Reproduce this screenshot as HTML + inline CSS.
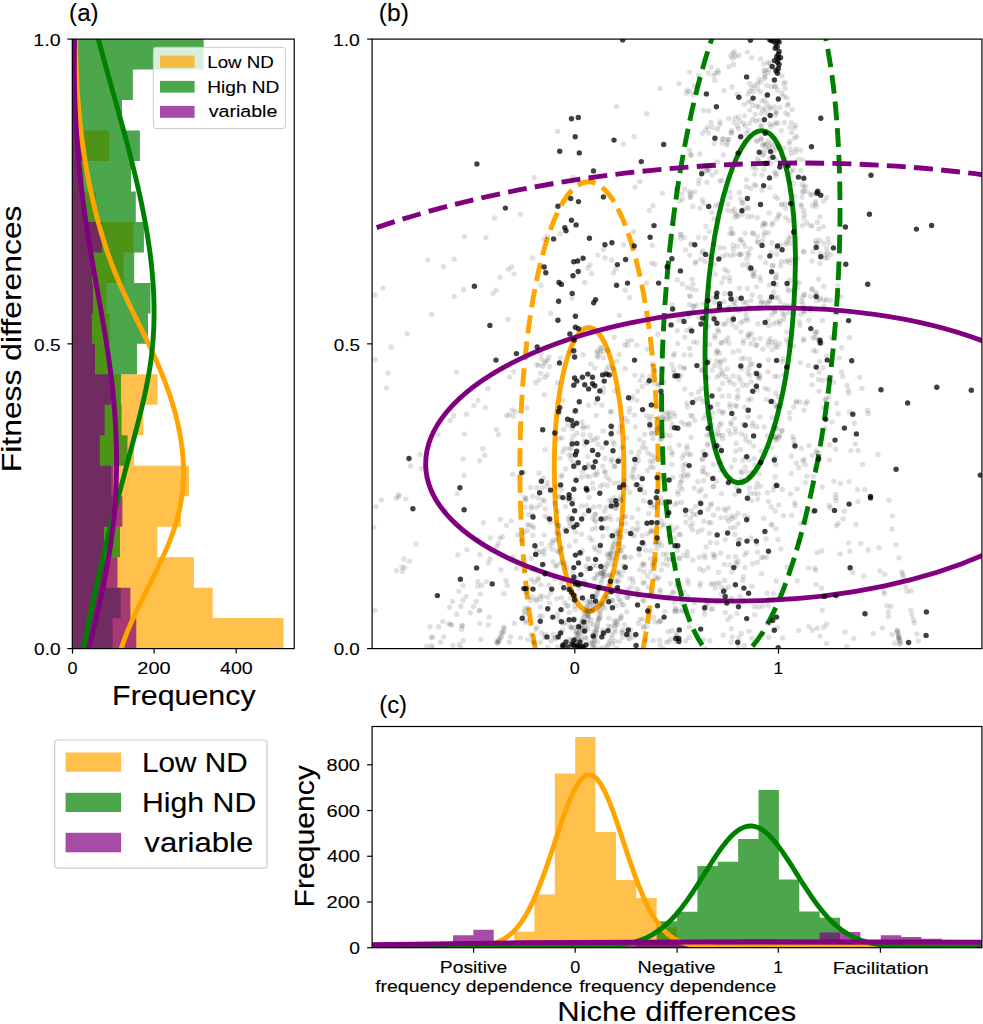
<!DOCTYPE html>
<html><head><meta charset="utf-8"><style>
html,body{margin:0;padding:0;background:#fff;width:983px;height:1024px;overflow:hidden}
svg{display:block}
text{font-family:"Liberation Sans",sans-serif;stroke:#000;stroke-width:0.12px}
</style></head><body>
<svg width="983" height="1024" viewBox="0 0 983 1024">
<rect width="983" height="1024" fill="#fff"/>
<clipPath id="clipA"><rect x="72.3" y="39.1" width="221.89999999999998" height="609.5"/></clipPath>
<g clip-path="url(#clipA)"><path d="M72.30,39.10H74.50V69.58H72.30ZM72.30,69.58H74.50V100.05H72.30ZM72.30,100.05H75.00V130.53H72.30ZM72.30,130.53H109.00V161.00H72.30ZM72.30,161.00H84.00V191.47H72.30ZM72.30,191.47H95.90V221.95H72.30ZM72.30,221.95H133.40V252.43H72.30ZM72.30,252.43H123.60V282.90H72.30ZM72.30,282.90H106.60V313.38H72.30ZM72.30,313.38H109.80V343.85H72.30ZM72.30,343.85H109.00V374.33H72.30ZM72.30,374.33H157.60V404.80H72.30ZM72.30,404.80H143.40V435.28H72.30ZM72.30,435.28H134.00V465.75H72.30ZM72.30,465.75H189.00V496.23H72.30ZM72.30,496.23H181.00V526.70H72.30ZM72.30,526.70H157.30V557.18H72.30ZM72.30,557.18H193.90V587.65H72.30ZM72.30,587.65H212.70V618.13H72.30ZM72.30,618.12H283.50V648.60H72.30Z" fill="#FFA500" fill-opacity="0.7"/><path d="M72.30,39.10H203.70V69.58H72.30ZM72.30,69.58H132.90V100.05H72.30ZM72.30,100.05H122.00V130.53H72.30ZM72.30,130.53H139.90V161.00H72.30ZM72.30,161.00H131.00V191.47H72.30ZM72.30,191.47H135.80V221.95H72.30ZM72.30,221.95H143.90V252.43H72.30ZM72.30,252.43H134.20V282.90H72.30ZM72.30,282.90H150.50V313.38H72.30ZM72.30,313.38H148.00V343.85H72.30ZM72.30,343.85H137.00V374.33H72.30ZM72.30,374.33H121.00V404.80H72.30ZM72.30,404.80H121.60V435.28H72.30ZM72.30,435.28H127.50V465.75H72.30ZM72.30,465.75H111.30V496.23H72.30ZM72.30,496.23H112.60V526.70H72.30ZM72.30,526.70H120.00V557.18H72.30ZM72.30,557.18H105.30V587.65H72.30ZM72.30,587.65H120.70V618.13H72.30ZM72.30,618.12H112.60V648.60H72.30Z" fill="#008000" fill-opacity="0.7"/><path d="M72.30,39.10H74.00V69.58H72.30ZM72.30,69.58H74.00V100.05H72.30ZM72.30,100.05H74.00V130.53H72.30ZM72.30,130.53H83.00V161.00H72.30ZM72.30,161.00H80.00V191.47H72.30ZM72.30,191.47H84.50V221.95H72.30ZM72.30,221.95H102.10V252.43H72.30ZM72.30,252.43H92.00V282.90H72.30ZM72.30,282.90H93.00V313.38H72.30ZM72.30,313.38H91.90V343.85H72.30ZM72.30,343.85H95.00V374.33H72.30ZM72.30,374.33H111.00V404.80H72.30ZM72.30,404.80H104.60V435.28H72.30ZM72.30,435.28H99.80V465.75H72.30ZM72.30,465.75H113.60V496.23H72.30ZM72.30,496.23H122.40V526.70H72.30ZM72.30,526.70H104.00V557.18H72.30ZM72.30,557.18H117.50V587.65H72.30ZM72.30,587.65H130.40V618.13H72.30ZM72.30,618.12H136.30V648.60H72.30Z" fill="#800080" fill-opacity="0.7"/><path d="M75.78,36.10 L75.78,39.97 L75.80,43.84 L75.83,47.71 L75.87,51.58 L75.94,55.46 L76.02,59.33 L76.12,63.20 L76.23,67.07 L76.37,70.94 L76.52,74.81 L76.69,78.68 L76.88,82.55 L77.09,86.42 L77.32,90.29 L77.57,94.17 L77.84,98.04 L78.13,101.91 L78.43,105.78 L78.76,109.65 L79.11,113.52 L79.48,117.39 L79.87,121.26 L80.28,125.13 L80.71,129.01 L81.17,132.88 L81.65,136.75 L82.15,140.62 L82.67,144.49 L83.21,148.36 L83.78,152.23 L84.37,156.10 L84.99,159.97 L85.63,163.85 L86.29,167.72 L86.97,171.59 L87.68,175.46 L88.42,179.33 L89.18,183.20 L89.97,187.07 L90.78,190.94 L91.61,194.81 L92.47,198.68 L93.36,202.56 L94.28,206.43 L95.23,210.30 L96.20,214.17 L97.20,218.04 L98.24,221.91 L99.30,225.78 L100.40,229.65 L101.53,233.52 L102.69,237.40 L103.89,241.27 L105.12,245.14 L106.39,249.01 L107.70,252.88 L109.05,256.75 L110.45,260.62 L111.89,264.49 L113.37,268.36 L114.90,272.24 L116.48,276.11 L118.11,279.98 L119.78,283.85 L121.50,287.72 L123.26,291.59 L125.05,295.46 L126.87,299.33 L128.71,303.20 L130.58,307.07 L132.46,310.95 L134.36,314.82 L136.27,318.69 L138.18,322.56 L140.09,326.43 L141.99,330.30 L143.89,334.17 L145.77,338.04 L147.64,341.91 L149.49,345.79 L151.31,349.66 L153.11,353.53 L154.86,357.40 L156.59,361.27 L158.27,365.14 L159.90,369.01 L161.50,372.88 L163.05,376.75 L164.56,380.63 L166.01,384.50 L167.42,388.37 L168.78,392.24 L170.09,396.11 L171.35,399.98 L172.55,403.85 L173.70,407.72 L174.79,411.59 L175.82,415.46 L176.79,419.34 L177.70,423.21 L178.55,427.08 L179.34,430.95 L180.06,434.82 L180.72,438.69 L181.31,442.56 L181.83,446.43 L182.28,450.30 L182.66,454.18 L182.97,458.05 L183.20,461.92 L183.36,465.79 L183.44,469.66 L183.44,473.53 L183.37,477.40 L183.21,481.27 L182.97,485.14 L182.65,489.02 L182.24,492.89 L181.75,496.76 L181.17,500.63 L180.50,504.50 L179.75,508.37 L178.90,512.24 L177.95,516.11 L176.92,519.98 L175.79,523.85 L174.56,527.73 L173.25,531.60 L171.86,535.47 L170.39,539.34 L168.85,543.21 L167.24,547.08 L165.58,550.95 L163.86,554.82 L162.10,558.69 L160.29,562.57 L158.45,566.44 L156.58,570.31 L154.68,574.18 L152.76,578.05 L150.83,581.92 L148.90,585.79 L146.96,589.66 L145.02,593.53 L143.10,597.41 L141.19,601.28 L139.30,605.15 L137.43,609.02 L135.60,612.89 L133.81,616.76 L132.07,620.63 L130.37,624.50 L128.72,628.37 L127.14,632.24 L125.63,636.12 L124.19,639.99 L122.82,643.86 L121.54,647.73 L120.35,651.60" fill="none" stroke="#FFA500" stroke-width="4.9" stroke-linejoin="round"/><path d="M97.57,36.10 L98.59,39.97 L99.62,43.84 L100.66,47.71 L101.71,51.58 L102.76,55.46 L103.82,59.33 L104.89,63.20 L105.96,67.07 L107.03,70.94 L108.11,74.81 L109.19,78.68 L110.27,82.55 L111.36,86.42 L112.44,90.29 L113.53,94.17 L114.62,98.04 L115.70,101.91 L116.78,105.78 L117.86,109.65 L118.94,113.52 L120.01,117.39 L121.08,121.26 L122.14,125.13 L123.20,129.01 L124.25,132.88 L125.30,136.75 L126.33,140.62 L127.36,144.49 L128.38,148.36 L129.39,152.23 L130.39,156.10 L131.37,159.97 L132.35,163.85 L133.31,167.72 L134.26,171.59 L135.20,175.46 L136.12,179.33 L137.03,183.20 L137.92,187.07 L138.79,190.94 L139.65,194.81 L140.49,198.68 L141.31,202.56 L142.11,206.43 L142.89,210.30 L143.65,214.17 L144.39,218.04 L145.11,221.91 L145.80,225.78 L146.48,229.65 L147.13,233.52 L147.75,237.40 L148.35,241.27 L148.92,245.14 L149.47,249.01 L149.99,252.88 L150.48,256.75 L150.94,260.62 L151.38,264.49 L151.78,268.36 L152.15,272.24 L152.50,276.11 L152.81,279.98 L153.08,283.85 L153.33,287.72 L153.54,291.59 L153.72,295.46 L153.86,299.33 L153.96,303.20 L154.03,307.07 L154.06,310.95 L154.06,314.82 L154.01,318.69 L153.93,322.56 L153.80,326.43 L153.64,330.30 L153.43,334.17 L153.19,338.04 L152.90,341.91 L152.56,345.79 L152.19,349.66 L151.77,353.53 L151.30,357.40 L150.79,361.27 L150.23,365.14 L149.63,369.01 L148.99,372.88 L148.31,376.75 L147.59,380.63 L146.84,384.50 L146.06,388.37 L145.24,392.24 L144.40,396.11 L143.53,399.98 L142.64,403.85 L141.72,407.72 L140.78,411.59 L139.83,415.46 L138.86,419.34 L137.87,423.21 L136.88,427.08 L135.87,430.95 L134.86,434.82 L133.83,438.69 L132.81,442.56 L131.78,446.43 L130.75,450.30 L129.72,454.18 L128.69,458.05 L127.65,461.92 L126.62,465.79 L125.58,469.66 L124.55,473.53 L123.52,477.40 L122.48,481.27 L121.45,485.14 L120.42,489.02 L119.40,492.89 L118.37,496.76 L117.35,500.63 L116.33,504.50 L115.32,508.37 L114.31,512.24 L113.31,516.11 L112.31,519.98 L111.32,523.85 L110.34,527.73 L109.36,531.60 L108.39,535.47 L107.42,539.34 L106.46,543.21 L105.51,547.08 L104.57,550.95 L103.63,554.82 L102.71,558.69 L101.79,562.57 L100.88,566.44 L99.97,570.31 L99.08,574.18 L98.19,578.05 L97.31,581.92 L96.45,585.79 L95.59,589.66 L94.74,593.53 L93.90,597.41 L93.07,601.28 L92.25,605.15 L91.44,609.02 L90.64,612.89 L89.85,616.76 L89.07,620.63 L88.31,624.50 L87.55,628.37 L86.81,632.24 L86.08,636.12 L85.35,639.99 L84.65,643.86 L83.95,647.73 L83.26,651.60" fill="none" stroke="#008000" stroke-width="4.9" stroke-linejoin="round"/><path d="M74.62,36.10 L74.53,39.97 L74.45,43.84 L74.39,47.71 L74.35,51.58 L74.31,55.46 L74.29,59.33 L74.29,63.20 L74.29,67.07 L74.32,70.94 L74.35,74.81 L74.40,78.68 L74.46,82.55 L74.54,86.42 L74.63,90.29 L74.74,94.17 L74.86,98.04 L74.99,101.91 L75.13,105.78 L75.29,109.65 L75.47,113.52 L75.65,117.39 L75.85,121.26 L76.07,125.13 L76.30,129.01 L76.54,132.88 L76.79,136.75 L77.06,140.62 L77.34,144.49 L77.64,148.36 L77.95,152.23 L78.28,156.10 L78.61,159.97 L78.96,163.85 L79.33,167.72 L79.71,171.59 L80.10,175.46 L80.51,179.33 L80.93,183.20 L81.36,187.07 L81.81,190.94 L82.27,194.81 L82.74,198.68 L83.23,202.56 L83.73,206.43 L84.24,210.30 L84.77,214.17 L85.32,218.04 L85.87,221.91 L86.44,225.78 L87.02,229.65 L87.62,233.52 L88.23,237.40 L88.85,241.27 L89.48,245.14 L90.13,249.01 L90.78,252.88 L91.44,256.75 L92.11,260.62 L92.79,264.49 L93.47,268.36 L94.15,272.24 L94.84,276.11 L95.54,279.98 L96.23,283.85 L96.93,287.72 L97.62,291.59 L98.32,295.46 L99.01,299.33 L99.70,303.20 L100.39,307.07 L101.08,310.95 L101.75,314.82 L102.43,318.69 L103.09,322.56 L103.75,326.43 L104.40,330.30 L105.04,334.17 L105.66,338.04 L106.28,341.91 L106.88,345.79 L107.47,349.66 L108.05,353.53 L108.61,357.40 L109.16,361.27 L109.68,365.14 L110.19,369.01 L110.69,372.88 L111.16,376.75 L111.62,380.63 L112.06,384.50 L112.48,388.37 L112.88,392.24 L113.26,396.11 L113.63,399.98 L113.97,403.85 L114.29,407.72 L114.60,411.59 L114.88,415.46 L115.14,419.34 L115.38,423.21 L115.60,427.08 L115.80,430.95 L115.98,434.82 L116.13,438.69 L116.26,442.56 L116.37,446.43 L116.45,450.30 L116.51,454.18 L116.55,458.05 L116.57,461.92 L116.55,465.79 L116.52,469.66 L116.46,473.53 L116.37,477.40 L116.26,481.27 L116.12,485.14 L115.96,489.02 L115.77,492.89 L115.56,496.76 L115.31,500.63 L115.04,504.50 L114.75,508.37 L114.42,512.24 L114.07,516.11 L113.68,519.98 L113.27,523.85 L112.83,527.73 L112.37,531.60 L111.87,535.47 L111.35,539.34 L110.81,543.21 L110.23,547.08 L109.64,550.95 L109.02,554.82 L108.38,558.69 L107.72,562.57 L107.03,566.44 L106.33,570.31 L105.60,574.18 L104.86,578.05 L104.10,581.92 L103.32,585.79 L102.52,589.66 L101.71,593.53 L100.88,597.41 L100.04,601.28 L99.19,605.15 L98.32,609.02 L97.43,612.89 L96.54,616.76 L95.64,620.63 L94.72,624.50 L93.80,628.37 L92.86,632.24 L91.92,636.12 L90.97,639.99 L90.02,643.86 L89.06,647.73 L88.09,651.60" fill="none" stroke="#800080" stroke-width="4.9" stroke-linejoin="round"/></g>
<rect x="153.4" y="47.3" width="132" height="81.2" rx="2.5" fill="#fff" fill-opacity="0.8" stroke="#cccccc" stroke-width="1"/>
<rect x="160" y="55.6" width="34.6" height="12.2" fill="#FFA500" fill-opacity="0.7"/>
<rect x="160" y="80.9" width="34.6" height="11.7" fill="#008000" fill-opacity="0.7"/>
<rect x="160" y="105.9" width="34.6" height="11.9" fill="#800080" fill-opacity="0.7"/>
<text x="207.27" y="67.80" font-size="17.4" textLength="66.53" lengthAdjust="spacingAndGlyphs" fill="#000" >Low ND</text>
<text x="207.23" y="92.60" font-size="17.4" textLength="72.18" lengthAdjust="spacingAndGlyphs" fill="#000" >High ND</text>
<text x="208.73" y="117.10" font-size="17.4" textLength="68.64" lengthAdjust="spacingAndGlyphs" fill="#000" >variable</text>
<rect x="72.3" y="39.1" width="221.90" height="609.50" fill="none" stroke="#000" stroke-width="1.2"/>
<line x1="67.3" y1="39.10" x2="72.3" y2="39.10" stroke="#000" stroke-width="1.2"/>
<text x="33.31" y="45.80" font-size="17.4" textLength="27.26" lengthAdjust="spacingAndGlyphs" fill="#000" >1.0</text>
<line x1="67.3" y1="343.85" x2="72.3" y2="343.85" stroke="#000" stroke-width="1.2"/>
<text x="34.05" y="350.55" font-size="17.4" textLength="26.55" lengthAdjust="spacingAndGlyphs" fill="#000" >0.5</text>
<line x1="67.3" y1="648.60" x2="72.3" y2="648.60" stroke="#000" stroke-width="1.2"/>
<text x="34.06" y="655.30" font-size="17.4" textLength="26.49" lengthAdjust="spacingAndGlyphs" fill="#000" >0.0</text>
<line x1="72.5" y1="648.6" x2="72.5" y2="653.6" stroke="#000" stroke-width="1.2"/>
<text x="67.50" y="674.20" font-size="17.4" textLength="10.01" lengthAdjust="spacingAndGlyphs" fill="#000" >0</text>
<line x1="154.1" y1="648.6" x2="154.1" y2="653.6" stroke="#000" stroke-width="1.2"/>
<text x="137.35" y="674.20" font-size="17.4" textLength="33.28" lengthAdjust="spacingAndGlyphs" fill="#000" >200</text>
<line x1="236.2" y1="648.6" x2="236.2" y2="653.6" stroke="#000" stroke-width="1.2"/>
<text x="220.00" y="674.20" font-size="17.4" textLength="32.72" lengthAdjust="spacingAndGlyphs" fill="#000" >400</text>
<text x="112.11" y="704.90" font-size="27.9" textLength="143.55" lengthAdjust="spacingAndGlyphs" fill="#000" >Frequency</text>
<text transform="translate(21.10,469.60) rotate(-90)" x="-2.61" y="0" font-size="27.9" textLength="266.76" lengthAdjust="spacingAndGlyphs" fill="#000">Fitness differences</text>
<text x="69.10" y="21.00" font-size="23.5" textLength="29.49" lengthAdjust="spacingAndGlyphs" fill="#000" >(a)</text>
<clipPath id="clipB"><rect x="372.1" y="39.1" width="609.80" height="609.50"/></clipPath>
<g clip-path="url(#clipB)" fill="none"><path d="M623.90,469.40 A34.8,141.9 0 0 0 589.10,327.50 A34.8,141.9 0 0 0 554.30,469.40 A34.8,141.9 0 0 0 589.10,611.30 A34.8,141.9 0 0 0 623.90,469.40 Z" transform="rotate(-0.13 589.1 469.4)" stroke="#FFA500" stroke-width="4.9"/><path d="M658.10,468.80 A69.1,287.1 0 0 0 589.00,181.70 A69.1,287.1 0 0 0 519.90,468.80 A69.1,287.1 0 0 0 589.00,755.90 A69.1,287.1 0 0 0 658.10,468.80 Z" transform="rotate(-0.09 589.0 468.8)" stroke="#FFA500" stroke-width="4.9" stroke-dasharray="18.55 8.05" stroke-dashoffset="-6.8"/><path d="M793.70,306.70 A43.5,176.5 0 0 0 750.20,130.20 A43.5,176.5 0 0 0 706.70,306.70 A43.5,176.5 0 0 0 750.20,483.20 A43.5,176.5 0 0 0 793.70,306.70 Z" transform="rotate(4.0 750.2 306.7)" stroke="#008000" stroke-width="4.9"/><path d="M836.50,305.20 A85.7,357.0 0 0 0 750.80,-51.80 A85.7,357.0 0 0 0 665.10,305.20 A85.7,357.0 0 0 0 750.80,662.20 A85.7,357.0 0 0 0 836.50,305.20 Z" transform="rotate(4.1 750.8 305.2)" stroke="#008000" stroke-width="4.9" stroke-dasharray="18.55 8.05" stroke-dashoffset="-5"/><path d="M1088.70,454.50 A331.6,146.2 0 0 0 757.10,308.30 A331.6,146.2 0 0 0 425.50,454.50 A331.6,146.2 0 0 0 757.10,600.70 A331.6,146.2 0 0 0 1088.70,454.50 Z" transform="rotate(-2.0 757.1 454.5)" stroke="#800080" stroke-width="4.9"/><path d="M1416.70,454.50 A659.6,290.8 0 0 0 757.10,163.70 A659.6,290.8 0 0 0 97.50,454.50 A659.6,290.8 0 0 0 757.10,745.30 A659.6,290.8 0 0 0 1416.70,454.50 Z" transform="rotate(-2.0 757.1 454.5)" stroke="#800080" stroke-width="4.9" stroke-dasharray="18.95 8.25" stroke-dashoffset="9.85"/></g>
<g clip-path="url(#clipB)" id="scatter"><g fill="#000" fill-opacity="0.12"><circle cx="659.9" cy="88.6" r="2.7"/><circle cx="616.5" cy="106.6" r="2.7"/><circle cx="646.9" cy="113.8" r="2.7"/><circle cx="557.5" cy="131.5" r="2.7"/><circle cx="634.2" cy="136.7" r="2.7"/><circle cx="623.3" cy="143.9" r="2.7"/><circle cx="534.3" cy="177.7" r="2.7"/><circle cx="573.1" cy="177.1" r="2.7"/><circle cx="639.8" cy="181.7" r="2.7"/><circle cx="635.1" cy="187.3" r="2.7"/><circle cx="494.6" cy="218.0" r="2.7"/><circle cx="520.3" cy="214.3" r="2.7"/><circle cx="464.5" cy="236.6" r="2.7"/><circle cx="485.9" cy="237.6" r="2.7"/><circle cx="427.8" cy="259.9" r="2.7"/><circle cx="454.2" cy="259.3" r="2.7"/><circle cx="443.4" cy="266.4" r="2.7"/><circle cx="508.5" cy="269.2" r="2.7"/><circle cx="511.6" cy="267.0" r="2.7"/><circle cx="514.1" cy="273.9" r="2.7"/><circle cx="382.9" cy="288.1" r="2.7"/><circle cx="454.2" cy="296.5" r="2.7"/><circle cx="463.5" cy="289.7" r="2.7"/><circle cx="493.0" cy="293.4" r="2.7"/><circle cx="496.1" cy="290.3" r="2.7"/><circle cx="500.1" cy="277.3" r="2.7"/><circle cx="431.6" cy="314.5" r="2.7"/><circle cx="507.9" cy="319.2" r="2.7"/><circle cx="407.1" cy="333.8" r="2.7"/><circle cx="375.1" cy="295.0" r="2.7"/><circle cx="747.4" cy="52.1" r="2.7"/><circle cx="738.9" cy="55.2" r="2.7"/><circle cx="735.8" cy="56.3" r="2.7"/><circle cx="732.7" cy="58.3" r="2.7"/><circle cx="733.4" cy="64.5" r="2.7"/><circle cx="728.8" cy="66.8" r="2.7"/><circle cx="711.0" cy="67.1" r="2.7"/><circle cx="713.8" cy="75.8" r="2.7"/><circle cx="768.2" cy="62.2" r="2.7"/><circle cx="769.8" cy="63.7" r="2.7"/><circle cx="764.4" cy="74.3" r="2.7"/><circle cx="759.0" cy="79.2" r="2.7"/><circle cx="757.4" cy="83.8" r="2.7"/><circle cx="760.5" cy="82.3" r="2.7"/><circle cx="754.3" cy="85.4" r="2.7"/><circle cx="757.4" cy="88.5" r="2.7"/><circle cx="766.7" cy="85.4" r="2.7"/><circle cx="771.3" cy="86.9" r="2.7"/><circle cx="777.5" cy="90.0" r="2.7"/><circle cx="782.1" cy="76.1" r="2.7"/><circle cx="783.7" cy="83.8" r="2.7"/><circle cx="785.2" cy="88.5" r="2.7"/><circle cx="731.9" cy="86.9" r="2.7"/><circle cx="687.1" cy="90.0" r="2.7"/><circle cx="694.8" cy="86.2" r="2.7"/><circle cx="748.1" cy="93.9" r="2.7"/><circle cx="751.2" cy="100.9" r="2.7"/><circle cx="752.8" cy="105.5" r="2.7"/><circle cx="749.7" cy="110.1" r="2.7"/><circle cx="762.0" cy="100.9" r="2.7"/><circle cx="766.7" cy="103.9" r="2.7"/><circle cx="769.8" cy="107.0" r="2.7"/><circle cx="774.4" cy="107.0" r="2.7"/><circle cx="776.0" cy="111.7" r="2.7"/><circle cx="783.7" cy="96.2" r="2.7"/><circle cx="786.8" cy="97.8" r="2.7"/><circle cx="788.3" cy="103.9" r="2.7"/><circle cx="792.2" cy="109.4" r="2.7"/><circle cx="788.3" cy="114.8" r="2.7"/><circle cx="791.4" cy="122.5" r="2.7"/><circle cx="794.5" cy="127.9" r="2.7"/><circle cx="789.9" cy="127.1" r="2.7"/><circle cx="708.7" cy="110.9" r="2.7"/><circle cx="735.0" cy="117.9" r="2.7"/><circle cx="734.2" cy="122.5" r="2.7"/><circle cx="743.5" cy="123.3" r="2.7"/><circle cx="749.7" cy="123.3" r="2.7"/><circle cx="752.8" cy="119.4" r="2.7"/><circle cx="755.9" cy="121.0" r="2.7"/><circle cx="762.0" cy="125.6" r="2.7"/><circle cx="769.8" cy="124.0" r="2.7"/><circle cx="776.0" cy="122.5" r="2.7"/><circle cx="748.1" cy="130.2" r="2.7"/><circle cx="711.0" cy="122.5" r="2.7"/><circle cx="707.9" cy="127.1" r="2.7"/><circle cx="702.5" cy="133.3" r="2.7"/><circle cx="731.1" cy="133.3" r="2.7"/><circle cx="728.0" cy="139.5" r="2.7"/><circle cx="723.4" cy="138.7" r="2.7"/><circle cx="727.3" cy="142.6" r="2.7"/><circle cx="714.1" cy="143.4" r="2.7"/><circle cx="755.9" cy="141.1" r="2.7"/><circle cx="761.3" cy="139.5" r="2.7"/><circle cx="763.6" cy="144.1" r="2.7"/><circle cx="768.2" cy="141.1" r="2.7"/><circle cx="772.9" cy="145.7" r="2.7"/><circle cx="776.0" cy="147.2" r="2.7"/><circle cx="789.9" cy="141.1" r="2.7"/><circle cx="794.5" cy="138.0" r="2.7"/><circle cx="796.8" cy="136.4" r="2.7"/><circle cx="796.1" cy="148.8" r="2.7"/><circle cx="800.7" cy="150.3" r="2.7"/><circle cx="791.4" cy="153.4" r="2.7"/><circle cx="797.6" cy="159.6" r="2.7"/><circle cx="802.3" cy="159.6" r="2.7"/><circle cx="689.4" cy="150.3" r="2.7"/><circle cx="690.9" cy="155.0" r="2.7"/><circle cx="757.4" cy="158.8" r="2.7"/><circle cx="759.0" cy="161.2" r="2.7"/><circle cx="769.8" cy="158.1" r="2.7"/><circle cx="776.0" cy="159.6" r="2.7"/><circle cx="785.2" cy="158.8" r="2.7"/><circle cx="717.2" cy="161.9" r="2.7"/><circle cx="711.8" cy="175.1" r="2.7"/><circle cx="704.8" cy="165.8" r="2.7"/><circle cx="707.2" cy="168.1" r="2.7"/><circle cx="755.9" cy="168.9" r="2.7"/><circle cx="762.0" cy="175.1" r="2.7"/><circle cx="774.4" cy="172.0" r="2.7"/><circle cx="776.0" cy="175.8" r="2.7"/><circle cx="721.8" cy="180.5" r="2.7"/><circle cx="746.6" cy="186.7" r="2.7"/><circle cx="754.3" cy="184.4" r="2.7"/><circle cx="769.8" cy="187.4" r="2.7"/><circle cx="789.9" cy="175.1" r="2.7"/><circle cx="800.7" cy="170.4" r="2.7"/><circle cx="802.3" cy="184.4" r="2.7"/><circle cx="803.8" cy="187.4" r="2.7"/><circle cx="698.6" cy="183.6" r="2.7"/><circle cx="684.7" cy="189.0" r="2.7"/><circle cx="795.6" cy="125.2" r="2.7"/><circle cx="717.7" cy="70.4" r="2.7"/><circle cx="738.3" cy="116.7" r="2.7"/><circle cx="759.0" cy="107.0" r="2.7"/><circle cx="768.7" cy="69.8" r="2.7"/><circle cx="715.2" cy="73.1" r="2.7"/><circle cx="744.3" cy="104.3" r="2.7"/><circle cx="708.5" cy="73.0" r="2.7"/><circle cx="761.0" cy="113.6" r="2.7"/><circle cx="785.7" cy="113.0" r="2.7"/><circle cx="793.6" cy="169.9" r="2.7"/><circle cx="693.3" cy="94.7" r="2.7"/><circle cx="689.5" cy="91.6" r="2.7"/><circle cx="760.6" cy="58.9" r="2.7"/><circle cx="760.9" cy="138.4" r="2.7"/><circle cx="781.2" cy="130.8" r="2.7"/><circle cx="746.4" cy="133.4" r="2.7"/><circle cx="776.4" cy="173.4" r="2.7"/><circle cx="776.2" cy="112.8" r="2.7"/><circle cx="762.0" cy="190.0" r="2.7"/><circle cx="774.4" cy="68.0" r="2.7"/><circle cx="794.6" cy="196.0" r="2.7"/><circle cx="719.7" cy="124.7" r="2.7"/><circle cx="793.9" cy="183.7" r="2.7"/><circle cx="791.5" cy="132.6" r="2.7"/><circle cx="757.8" cy="141.0" r="2.7"/><circle cx="765.3" cy="76.9" r="2.7"/><circle cx="716.1" cy="172.0" r="2.7"/><circle cx="780.0" cy="107.4" r="2.7"/><circle cx="726.8" cy="145.3" r="2.7"/><circle cx="699.0" cy="179.8" r="2.7"/><circle cx="745.0" cy="125.9" r="2.7"/><circle cx="714.8" cy="80.6" r="2.7"/><circle cx="790.0" cy="181.0" r="2.7"/><circle cx="769.3" cy="147.3" r="2.7"/><circle cx="795.5" cy="152.0" r="2.7"/><circle cx="705.7" cy="129.7" r="2.7"/><circle cx="720.1" cy="121.7" r="2.7"/><circle cx="759.2" cy="120.1" r="2.7"/><circle cx="737.0" cy="94.1" r="2.7"/><circle cx="730.9" cy="56.0" r="2.7"/><circle cx="775.3" cy="115.0" r="2.7"/><circle cx="789.2" cy="143.6" r="2.7"/><circle cx="764.0" cy="78.7" r="2.7"/><circle cx="764.2" cy="149.9" r="2.7"/><circle cx="731.8" cy="132.6" r="2.7"/><circle cx="763.8" cy="169.4" r="2.7"/><circle cx="770.6" cy="126.7" r="2.7"/><circle cx="778.0" cy="123.4" r="2.7"/><circle cx="748.5" cy="101.9" r="2.7"/><circle cx="691.0" cy="155.0" r="2.7"/><circle cx="767.9" cy="72.8" r="2.7"/><circle cx="771.0" cy="163.1" r="2.7"/><circle cx="752.9" cy="167.1" r="2.7"/><circle cx="728.8" cy="118.4" r="2.7"/><circle cx="765.3" cy="70.0" r="2.7"/><circle cx="722.1" cy="143.2" r="2.7"/><circle cx="781.9" cy="93.3" r="2.7"/><circle cx="766.8" cy="112.9" r="2.7"/><circle cx="790.5" cy="149.4" r="2.7"/><circle cx="783.9" cy="148.1" r="2.7"/><circle cx="732.9" cy="53.3" r="2.7"/><circle cx="723.3" cy="154.9" r="2.7"/><circle cx="762.9" cy="110.2" r="2.7"/><circle cx="744.5" cy="115.9" r="2.7"/><circle cx="676.2" cy="188.8" r="2.7"/><circle cx="765.5" cy="145.1" r="2.7"/><circle cx="698.6" cy="75.8" r="2.7"/><circle cx="791.2" cy="171.3" r="2.7"/><circle cx="762.7" cy="145.3" r="2.7"/><circle cx="734.4" cy="51.8" r="2.7"/><circle cx="689.5" cy="72.1" r="2.7"/><circle cx="731.5" cy="130.5" r="2.7"/><circle cx="739.7" cy="120.9" r="2.7"/><circle cx="755.1" cy="114.2" r="2.7"/><circle cx="737.4" cy="125.9" r="2.7"/><circle cx="762.6" cy="155.4" r="2.7"/><circle cx="707.0" cy="182.2" r="2.7"/><circle cx="709.2" cy="169.9" r="2.7"/><circle cx="746.6" cy="179.8" r="2.7"/><circle cx="724.1" cy="90.4" r="2.7"/><circle cx="764.0" cy="64.0" r="2.7"/><circle cx="760.1" cy="126.3" r="2.7"/><circle cx="763.8" cy="70.6" r="2.7"/><circle cx="774.6" cy="86.8" r="2.7"/><circle cx="728.4" cy="139.4" r="2.7"/><circle cx="699.6" cy="153.9" r="2.7"/><circle cx="738.4" cy="128.8" r="2.7"/><circle cx="751.7" cy="57.7" r="2.7"/><circle cx="719.8" cy="181.1" r="2.7"/><circle cx="760.2" cy="91.8" r="2.7"/><circle cx="756.9" cy="106.2" r="2.7"/><circle cx="768.7" cy="149.0" r="2.7"/><circle cx="765.0" cy="108.5" r="2.7"/><circle cx="718.5" cy="72.8" r="2.7"/><circle cx="717.6" cy="129.3" r="2.7"/><circle cx="764.2" cy="153.7" r="2.7"/><circle cx="770.6" cy="143.6" r="2.7"/><circle cx="779.3" cy="146.5" r="2.7"/><circle cx="679.0" cy="83.5" r="2.7"/><circle cx="785.3" cy="82.1" r="2.7"/><circle cx="755.9" cy="185.8" r="2.7"/><circle cx="754.5" cy="174.2" r="2.7"/><circle cx="690.8" cy="193.7" r="2.7"/><circle cx="770.4" cy="108.7" r="2.7"/><circle cx="749.7" cy="83.5" r="2.7"/><circle cx="805.5" cy="186.1" r="2.7"/><circle cx="784.5" cy="122.5" r="2.7"/><circle cx="774.4" cy="150.3" r="2.7"/><circle cx="766.2" cy="144.3" r="2.7"/><circle cx="765.9" cy="95.4" r="2.7"/><circle cx="787.2" cy="105.8" r="2.7"/><circle cx="749.9" cy="91.1" r="2.7"/><circle cx="753.3" cy="91.8" r="2.7"/><circle cx="707.3" cy="170.5" r="2.7"/><circle cx="706.2" cy="171.0" r="2.7"/><circle cx="690.1" cy="196.8" r="2.7"/><circle cx="701.8" cy="169.2" r="2.7"/><circle cx="775.5" cy="86.1" r="2.7"/><circle cx="751.8" cy="88.0" r="2.7"/><circle cx="708.9" cy="165.0" r="2.7"/><circle cx="708.6" cy="133.1" r="2.7"/><circle cx="712.8" cy="127.5" r="2.7"/><circle cx="750.7" cy="188.4" r="2.7"/><circle cx="722.3" cy="139.2" r="2.7"/><circle cx="703.7" cy="110.4" r="2.7"/><circle cx="778.4" cy="70.9" r="2.7"/><circle cx="764.8" cy="100.4" r="2.7"/><circle cx="774.2" cy="124.6" r="2.7"/><circle cx="686.6" cy="93.2" r="2.7"/><circle cx="698.4" cy="237.2" r="2.7"/><circle cx="718.5" cy="204.1" r="2.7"/><circle cx="684.6" cy="237.6" r="2.7"/><circle cx="705.9" cy="226.5" r="2.7"/><circle cx="681.5" cy="193.9" r="2.7"/><circle cx="711.9" cy="212.5" r="2.7"/><circle cx="680.7" cy="238.5" r="2.7"/><circle cx="709.1" cy="231.6" r="2.7"/><circle cx="681.2" cy="234.4" r="2.7"/><circle cx="680.4" cy="234.7" r="2.7"/><circle cx="700.0" cy="208.2" r="2.7"/><circle cx="705.0" cy="238.0" r="2.7"/><circle cx="690.6" cy="197.5" r="2.7"/><circle cx="703.7" cy="203.1" r="2.7"/><circle cx="682.5" cy="199.2" r="2.7"/><circle cx="679.6" cy="201.2" r="2.7"/><circle cx="692.8" cy="206.5" r="2.7"/><circle cx="715.5" cy="205.7" r="2.7"/><circle cx="702.3" cy="200.0" r="2.7"/><circle cx="694.6" cy="191.9" r="2.7"/><circle cx="689.7" cy="191.8" r="2.7"/><circle cx="714.1" cy="218.9" r="2.7"/><circle cx="737.3" cy="215.1" r="2.7"/><circle cx="775.0" cy="196.4" r="2.7"/><circle cx="769.2" cy="212.9" r="2.7"/><circle cx="752.7" cy="233.3" r="2.7"/><circle cx="747.6" cy="216.7" r="2.7"/><circle cx="762.5" cy="240.8" r="2.7"/><circle cx="745.0" cy="233.2" r="2.7"/><circle cx="763.5" cy="223.2" r="2.7"/><circle cx="748.2" cy="208.6" r="2.7"/><circle cx="730.4" cy="197.6" r="2.7"/><circle cx="731.3" cy="228.5" r="2.7"/><circle cx="740.6" cy="199.3" r="2.7"/><circle cx="731.9" cy="233.6" r="2.7"/><circle cx="771.8" cy="225.0" r="2.7"/><circle cx="742.0" cy="203.3" r="2.7"/><circle cx="742.5" cy="214.3" r="2.7"/><circle cx="735.6" cy="213.6" r="2.7"/><circle cx="741.0" cy="239.7" r="2.7"/><circle cx="776.9" cy="218.7" r="2.7"/><circle cx="740.1" cy="239.9" r="2.7"/><circle cx="743.4" cy="209.1" r="2.7"/><circle cx="727.7" cy="210.3" r="2.7"/><circle cx="751.7" cy="216.5" r="2.7"/><circle cx="737.9" cy="216.6" r="2.7"/><circle cx="727.9" cy="204.4" r="2.7"/><circle cx="732.2" cy="211.2" r="2.7"/><circle cx="729.8" cy="192.1" r="2.7"/><circle cx="743.1" cy="202.8" r="2.7"/><circle cx="757.3" cy="217.8" r="2.7"/><circle cx="765.7" cy="224.3" r="2.7"/><circle cx="763.9" cy="235.5" r="2.7"/><circle cx="747.4" cy="207.5" r="2.7"/><circle cx="777.6" cy="198.6" r="2.7"/><circle cx="764.4" cy="223.6" r="2.7"/><circle cx="729.9" cy="233.3" r="2.7"/><circle cx="772.9" cy="222.8" r="2.7"/><circle cx="764.8" cy="232.2" r="2.7"/><circle cx="734.7" cy="217.5" r="2.7"/><circle cx="753.2" cy="233.3" r="2.7"/><circle cx="768.4" cy="232.9" r="2.7"/><circle cx="757.3" cy="236.2" r="2.7"/><circle cx="762.3" cy="226.1" r="2.7"/><circle cx="739.3" cy="192.6" r="2.7"/><circle cx="734.4" cy="209.3" r="2.7"/><circle cx="733.0" cy="233.3" r="2.7"/><circle cx="806.6" cy="222.8" r="2.7"/><circle cx="810.1" cy="225.5" r="2.7"/><circle cx="803.1" cy="191.2" r="2.7"/><circle cx="818.8" cy="228.9" r="2.7"/><circle cx="803.8" cy="218.1" r="2.7"/><circle cx="811.7" cy="194.3" r="2.7"/><circle cx="815.7" cy="203.8" r="2.7"/><circle cx="782.1" cy="204.5" r="2.7"/><circle cx="815.3" cy="201.4" r="2.7"/><circle cx="815.8" cy="240.4" r="2.7"/><circle cx="803.4" cy="210.4" r="2.7"/><circle cx="802.6" cy="225.6" r="2.7"/><circle cx="817.2" cy="222.3" r="2.7"/><circle cx="810.9" cy="194.9" r="2.7"/><circle cx="785.8" cy="203.9" r="2.7"/><circle cx="816.0" cy="206.4" r="2.7"/><circle cx="807.1" cy="191.6" r="2.7"/><circle cx="781.4" cy="204.6" r="2.7"/><circle cx="812.4" cy="226.1" r="2.7"/><circle cx="812.6" cy="205.7" r="2.7"/><circle cx="804.5" cy="214.5" r="2.7"/><circle cx="802.0" cy="197.0" r="2.7"/><circle cx="823.6" cy="201.1" r="2.7"/><circle cx="827.9" cy="238.4" r="2.7"/><circle cx="779.2" cy="214.3" r="2.7"/><circle cx="819.9" cy="240.1" r="2.7"/><circle cx="801.1" cy="204.6" r="2.7"/><circle cx="789.0" cy="238.9" r="2.7"/><circle cx="789.0" cy="220.5" r="2.7"/><circle cx="785.5" cy="217.6" r="2.7"/><circle cx="826.6" cy="197.7" r="2.7"/><circle cx="819.9" cy="216.8" r="2.7"/><circle cx="823.3" cy="226.6" r="2.7"/><circle cx="790.1" cy="236.5" r="2.7"/><circle cx="803.0" cy="192.3" r="2.7"/><circle cx="778.5" cy="215.9" r="2.7"/><circle cx="801.2" cy="206.3" r="2.7"/><circle cx="785.5" cy="208.4" r="2.7"/><circle cx="693.0" cy="284.2" r="2.7"/><circle cx="677.1" cy="279.7" r="2.7"/><circle cx="719.5" cy="247.7" r="2.7"/><circle cx="723.9" cy="277.8" r="2.7"/><circle cx="722.7" cy="256.4" r="2.7"/><circle cx="695.9" cy="261.6" r="2.7"/><circle cx="727.6" cy="271.5" r="2.7"/><circle cx="695.3" cy="263.4" r="2.7"/><circle cx="690.9" cy="244.1" r="2.7"/><circle cx="682.2" cy="284.0" r="2.7"/><circle cx="691.5" cy="289.1" r="2.7"/><circle cx="689.6" cy="255.1" r="2.7"/><circle cx="702.9" cy="251.3" r="2.7"/><circle cx="695.9" cy="290.1" r="2.7"/><circle cx="721.8" cy="282.8" r="2.7"/><circle cx="709.0" cy="287.9" r="2.7"/><circle cx="724.7" cy="269.5" r="2.7"/><circle cx="713.5" cy="244.2" r="2.7"/><circle cx="714.1" cy="264.5" r="2.7"/><circle cx="715.1" cy="274.3" r="2.7"/><circle cx="691.5" cy="244.1" r="2.7"/><circle cx="724.0" cy="248.1" r="2.7"/><circle cx="700.9" cy="259.1" r="2.7"/><circle cx="692.1" cy="279.1" r="2.7"/><circle cx="726.5" cy="254.8" r="2.7"/><circle cx="710.2" cy="256.9" r="2.7"/><circle cx="705.2" cy="261.6" r="2.7"/><circle cx="685.5" cy="249.9" r="2.7"/><circle cx="687.5" cy="287.6" r="2.7"/><circle cx="702.2" cy="252.8" r="2.7"/><circle cx="773.6" cy="292.2" r="2.7"/><circle cx="750.5" cy="248.7" r="2.7"/><circle cx="737.4" cy="246.3" r="2.7"/><circle cx="745.0" cy="246.3" r="2.7"/><circle cx="739.8" cy="254.8" r="2.7"/><circle cx="756.5" cy="286.6" r="2.7"/><circle cx="765.7" cy="262.6" r="2.7"/><circle cx="748.6" cy="268.2" r="2.7"/><circle cx="746.8" cy="258.8" r="2.7"/><circle cx="730.8" cy="255.7" r="2.7"/><circle cx="776.7" cy="248.0" r="2.7"/><circle cx="753.2" cy="273.6" r="2.7"/><circle cx="771.4" cy="252.6" r="2.7"/><circle cx="741.4" cy="254.3" r="2.7"/><circle cx="747.9" cy="264.3" r="2.7"/><circle cx="776.0" cy="284.7" r="2.7"/><circle cx="771.9" cy="242.8" r="2.7"/><circle cx="729.3" cy="277.6" r="2.7"/><circle cx="773.1" cy="265.6" r="2.7"/><circle cx="757.4" cy="241.7" r="2.7"/><circle cx="747.5" cy="288.6" r="2.7"/><circle cx="769.5" cy="285.0" r="2.7"/><circle cx="776.9" cy="254.3" r="2.7"/><circle cx="733.2" cy="249.5" r="2.7"/><circle cx="754.1" cy="276.2" r="2.7"/><circle cx="775.4" cy="278.2" r="2.7"/><circle cx="760.5" cy="280.4" r="2.7"/><circle cx="750.8" cy="269.6" r="2.7"/><circle cx="729.7" cy="281.3" r="2.7"/><circle cx="739.5" cy="288.3" r="2.7"/><circle cx="760.4" cy="257.1" r="2.7"/><circle cx="734.2" cy="254.4" r="2.7"/><circle cx="759.9" cy="277.1" r="2.7"/><circle cx="733.3" cy="245.2" r="2.7"/><circle cx="754.2" cy="271.2" r="2.7"/><circle cx="747.3" cy="253.0" r="2.7"/><circle cx="758.1" cy="242.2" r="2.7"/><circle cx="742.9" cy="265.0" r="2.7"/><circle cx="776.3" cy="274.3" r="2.7"/><circle cx="772.4" cy="265.7" r="2.7"/><circle cx="739.6" cy="254.2" r="2.7"/><circle cx="776.3" cy="277.4" r="2.7"/><circle cx="743.2" cy="242.8" r="2.7"/><circle cx="752.9" cy="275.8" r="2.7"/><circle cx="748.9" cy="254.7" r="2.7"/><circle cx="812.1" cy="288.5" r="2.7"/><circle cx="789.8" cy="243.4" r="2.7"/><circle cx="795.5" cy="263.0" r="2.7"/><circle cx="812.9" cy="251.7" r="2.7"/><circle cx="818.7" cy="279.1" r="2.7"/><circle cx="803.9" cy="252.1" r="2.7"/><circle cx="827.5" cy="257.5" r="2.7"/><circle cx="819.9" cy="253.4" r="2.7"/><circle cx="789.6" cy="280.2" r="2.7"/><circle cx="793.3" cy="289.9" r="2.7"/><circle cx="803.5" cy="251.2" r="2.7"/><circle cx="789.7" cy="262.8" r="2.7"/><circle cx="812.0" cy="289.7" r="2.7"/><circle cx="785.8" cy="261.6" r="2.7"/><circle cx="789.1" cy="291.0" r="2.7"/><circle cx="785.5" cy="244.3" r="2.7"/><circle cx="781.4" cy="261.6" r="2.7"/><circle cx="823.8" cy="286.4" r="2.7"/><circle cx="815.5" cy="292.2" r="2.7"/><circle cx="825.5" cy="258.3" r="2.7"/><circle cx="787.7" cy="289.1" r="2.7"/><circle cx="816.1" cy="243.3" r="2.7"/><circle cx="812.0" cy="260.9" r="2.7"/><circle cx="797.3" cy="258.5" r="2.7"/><circle cx="786.9" cy="241.8" r="2.7"/><circle cx="792.5" cy="259.5" r="2.7"/><circle cx="826.7" cy="247.9" r="2.7"/><circle cx="827.2" cy="252.2" r="2.7"/><circle cx="796.4" cy="283.3" r="2.7"/><circle cx="820.0" cy="263.6" r="2.7"/><circle cx="780.8" cy="265.7" r="2.7"/><circle cx="797.2" cy="288.3" r="2.7"/><circle cx="788.1" cy="260.1" r="2.7"/><circle cx="823.8" cy="243.2" r="2.7"/><circle cx="799.1" cy="282.8" r="2.7"/><circle cx="817.2" cy="243.7" r="2.7"/><circle cx="780.1" cy="244.8" r="2.7"/><circle cx="825.0" cy="254.7" r="2.7"/><circle cx="714.9" cy="337.9" r="2.7"/><circle cx="694.2" cy="306.1" r="2.7"/><circle cx="725.5" cy="323.6" r="2.7"/><circle cx="690.3" cy="328.6" r="2.7"/><circle cx="693.0" cy="306.3" r="2.7"/><circle cx="677.2" cy="330.6" r="2.7"/><circle cx="723.4" cy="324.5" r="2.7"/><circle cx="724.8" cy="293.6" r="2.7"/><circle cx="688.8" cy="316.4" r="2.7"/><circle cx="725.5" cy="340.7" r="2.7"/><circle cx="696.6" cy="305.1" r="2.7"/><circle cx="698.8" cy="317.3" r="2.7"/><circle cx="724.0" cy="301.6" r="2.7"/><circle cx="717.7" cy="329.8" r="2.7"/><circle cx="718.7" cy="331.5" r="2.7"/><circle cx="707.8" cy="308.9" r="2.7"/><circle cx="693.2" cy="310.7" r="2.7"/><circle cx="716.6" cy="296.3" r="2.7"/><circle cx="687.0" cy="330.5" r="2.7"/><circle cx="689.5" cy="295.6" r="2.7"/><circle cx="678.7" cy="320.3" r="2.7"/><circle cx="693.5" cy="342.0" r="2.7"/><circle cx="721.8" cy="342.4" r="2.7"/><circle cx="690.4" cy="296.6" r="2.7"/><circle cx="681.9" cy="317.6" r="2.7"/><circle cx="713.0" cy="315.0" r="2.7"/><circle cx="688.9" cy="313.5" r="2.7"/><circle cx="708.4" cy="326.5" r="2.7"/><circle cx="714.9" cy="335.2" r="2.7"/><circle cx="710.7" cy="298.5" r="2.7"/><circle cx="719.6" cy="307.2" r="2.7"/><circle cx="705.7" cy="311.2" r="2.7"/><circle cx="714.4" cy="302.4" r="2.7"/><circle cx="689.5" cy="304.8" r="2.7"/><circle cx="684.8" cy="337.1" r="2.7"/><circle cx="706.3" cy="308.9" r="2.7"/><circle cx="697.1" cy="342.6" r="2.7"/><circle cx="702.7" cy="304.1" r="2.7"/><circle cx="768.6" cy="325.4" r="2.7"/><circle cx="777.9" cy="297.5" r="2.7"/><circle cx="751.7" cy="333.8" r="2.7"/><circle cx="770.3" cy="338.7" r="2.7"/><circle cx="729.7" cy="307.2" r="2.7"/><circle cx="733.7" cy="301.9" r="2.7"/><circle cx="777.0" cy="321.9" r="2.7"/><circle cx="774.8" cy="311.2" r="2.7"/><circle cx="771.6" cy="315.1" r="2.7"/><circle cx="740.8" cy="331.7" r="2.7"/><circle cx="775.6" cy="297.7" r="2.7"/><circle cx="757.9" cy="323.7" r="2.7"/><circle cx="738.7" cy="311.0" r="2.7"/><circle cx="734.8" cy="302.7" r="2.7"/><circle cx="740.6" cy="322.7" r="2.7"/><circle cx="760.7" cy="302.6" r="2.7"/><circle cx="728.2" cy="308.9" r="2.7"/><circle cx="762.0" cy="301.7" r="2.7"/><circle cx="743.5" cy="302.6" r="2.7"/><circle cx="768.0" cy="320.1" r="2.7"/><circle cx="730.9" cy="297.5" r="2.7"/><circle cx="747.7" cy="320.2" r="2.7"/><circle cx="760.1" cy="297.0" r="2.7"/><circle cx="736.0" cy="327.6" r="2.7"/><circle cx="748.4" cy="306.7" r="2.7"/><circle cx="743.3" cy="340.6" r="2.7"/><circle cx="743.5" cy="321.0" r="2.7"/><circle cx="745.8" cy="313.4" r="2.7"/><circle cx="771.5" cy="342.8" r="2.7"/><circle cx="746.1" cy="302.3" r="2.7"/><circle cx="764.6" cy="302.7" r="2.7"/><circle cx="728.0" cy="338.0" r="2.7"/><circle cx="749.1" cy="333.9" r="2.7"/><circle cx="748.2" cy="337.1" r="2.7"/><circle cx="751.0" cy="300.6" r="2.7"/><circle cx="728.4" cy="320.3" r="2.7"/><circle cx="760.1" cy="338.4" r="2.7"/><circle cx="732.2" cy="323.9" r="2.7"/><circle cx="746.5" cy="317.9" r="2.7"/><circle cx="735.1" cy="306.7" r="2.7"/><circle cx="754.1" cy="339.2" r="2.7"/><circle cx="733.2" cy="317.2" r="2.7"/><circle cx="768.4" cy="341.3" r="2.7"/><circle cx="737.7" cy="298.8" r="2.7"/><circle cx="775.5" cy="341.8" r="2.7"/><circle cx="752.1" cy="295.0" r="2.7"/><circle cx="774.6" cy="312.0" r="2.7"/><circle cx="773.5" cy="323.8" r="2.7"/><circle cx="769.4" cy="300.5" r="2.7"/><circle cx="767.5" cy="303.6" r="2.7"/><circle cx="748.2" cy="335.2" r="2.7"/><circle cx="769.7" cy="301.6" r="2.7"/><circle cx="789.4" cy="312.6" r="2.7"/><circle cx="804.6" cy="311.8" r="2.7"/><circle cx="784.6" cy="304.9" r="2.7"/><circle cx="815.1" cy="337.8" r="2.7"/><circle cx="780.4" cy="320.8" r="2.7"/><circle cx="816.7" cy="294.3" r="2.7"/><circle cx="820.8" cy="298.3" r="2.7"/><circle cx="808.7" cy="320.2" r="2.7"/><circle cx="810.1" cy="307.9" r="2.7"/><circle cx="799.6" cy="321.9" r="2.7"/><circle cx="799.9" cy="325.7" r="2.7"/><circle cx="801.0" cy="314.5" r="2.7"/><circle cx="779.5" cy="323.7" r="2.7"/><circle cx="803.1" cy="304.3" r="2.7"/><circle cx="817.0" cy="331.9" r="2.7"/><circle cx="801.6" cy="301.4" r="2.7"/><circle cx="802.3" cy="297.8" r="2.7"/><circle cx="784.8" cy="314.2" r="2.7"/><circle cx="783.0" cy="314.7" r="2.7"/><circle cx="804.2" cy="294.4" r="2.7"/><circle cx="810.6" cy="296.5" r="2.7"/><circle cx="815.5" cy="331.7" r="2.7"/><circle cx="804.3" cy="295.1" r="2.7"/><circle cx="803.9" cy="311.5" r="2.7"/><circle cx="826.5" cy="299.2" r="2.7"/><circle cx="821.8" cy="342.8" r="2.7"/><circle cx="815.4" cy="333.6" r="2.7"/><circle cx="788.1" cy="342.1" r="2.7"/><circle cx="803.3" cy="340.8" r="2.7"/><circle cx="824.7" cy="300.7" r="2.7"/><circle cx="818.3" cy="339.5" r="2.7"/><circle cx="781.7" cy="310.1" r="2.7"/><circle cx="816.6" cy="300.4" r="2.7"/><circle cx="823.8" cy="306.3" r="2.7"/><circle cx="819.7" cy="299.6" r="2.7"/><circle cx="803.8" cy="338.9" r="2.7"/><circle cx="788.9" cy="305.7" r="2.7"/><circle cx="804.0" cy="308.5" r="2.7"/><circle cx="780.2" cy="301.6" r="2.7"/><circle cx="786.5" cy="339.8" r="2.7"/><circle cx="812.8" cy="337.7" r="2.7"/><circle cx="786.9" cy="332.1" r="2.7"/><circle cx="784.2" cy="319.2" r="2.7"/><circle cx="810.6" cy="310.6" r="2.7"/><circle cx="822.6" cy="320.5" r="2.7"/><circle cx="830.6" cy="254.4" r="2.7"/><circle cx="829.0" cy="242.7" r="2.7"/><circle cx="840.7" cy="296.7" r="2.7"/><circle cx="830.6" cy="300.7" r="2.7"/><circle cx="849.4" cy="337.5" r="2.7"/><circle cx="831.3" cy="337.5" r="2.7"/><circle cx="837.6" cy="285.8" r="2.7"/><circle cx="391.1" cy="347.2" r="2.7"/><circle cx="375.1" cy="359.8" r="2.7"/><circle cx="388.0" cy="372.9" r="2.7"/><circle cx="386.5" cy="388.1" r="2.7"/><circle cx="456.5" cy="372.3" r="2.7"/><circle cx="513.6" cy="371.8" r="2.7"/><circle cx="509.7" cy="376.9" r="2.7"/><circle cx="488.0" cy="388.6" r="2.7"/><circle cx="478.1" cy="400.3" r="2.7"/><circle cx="473.9" cy="405.6" r="2.7"/><circle cx="485.3" cy="407.6" r="2.7"/><circle cx="466.6" cy="414.3" r="2.7"/><circle cx="453.7" cy="415.8" r="2.7"/><circle cx="450.1" cy="420.4" r="2.7"/><circle cx="512.1" cy="409.9" r="2.7"/><circle cx="509.0" cy="414.6" r="2.7"/><circle cx="512.9" cy="416.2" r="2.7"/><circle cx="515.2" cy="411.5" r="2.7"/><circle cx="506.6" cy="415.8" r="2.7"/><circle cx="496.5" cy="429.4" r="2.7"/><circle cx="498.4" cy="434.8" r="2.7"/><circle cx="464.3" cy="434.1" r="2.7"/><circle cx="438.1" cy="434.8" r="2.7"/><circle cx="482.8" cy="448.8" r="2.7"/><circle cx="484.8" cy="455.4" r="2.7"/><circle cx="479.7" cy="460.8" r="2.7"/><circle cx="463.1" cy="459.0" r="2.7"/><circle cx="420.2" cy="454.6" r="2.7"/><circle cx="410.6" cy="466.0" r="2.7"/><circle cx="421.5" cy="468.6" r="2.7"/><circle cx="464.1" cy="475.3" r="2.7"/><circle cx="398.8" cy="494.8" r="2.7"/><circle cx="457.3" cy="493.7" r="2.7"/><circle cx="627.5" cy="345.3" r="2.7"/><circle cx="636.8" cy="345.3" r="2.7"/><circle cx="600.3" cy="347.7" r="2.7"/><circle cx="597.2" cy="352.3" r="2.7"/><circle cx="548.9" cy="357.0" r="2.7"/><circle cx="544.2" cy="363.2" r="2.7"/><circle cx="542.7" cy="366.3" r="2.7"/><circle cx="547.3" cy="360.1" r="2.7"/><circle cx="590.9" cy="364.0" r="2.7"/><circle cx="619.3" cy="354.7" r="2.7"/><circle cx="625.2" cy="368.7" r="2.7"/><circle cx="612.7" cy="368.7" r="2.7"/><circle cx="535.7" cy="382.7" r="2.7"/><circle cx="642.3" cy="375.7" r="2.7"/><circle cx="640.0" cy="380.4" r="2.7"/><circle cx="664.1" cy="382.7" r="2.7"/><circle cx="673.4" cy="355.5" r="2.7"/><circle cx="671.9" cy="364.8" r="2.7"/><circle cx="673.4" cy="369.5" r="2.7"/><circle cx="637.6" cy="391.2" r="2.7"/><circle cx="632.9" cy="396.7" r="2.7"/><circle cx="603.4" cy="388.1" r="2.7"/><circle cx="595.6" cy="402.9" r="2.7"/><circle cx="611.2" cy="411.5" r="2.7"/><circle cx="629.1" cy="412.3" r="2.7"/><circle cx="625.2" cy="418.5" r="2.7"/><circle cx="620.5" cy="427.0" r="2.7"/><circle cx="668.7" cy="412.3" r="2.7"/><circle cx="673.4" cy="413.0" r="2.7"/><circle cx="667.2" cy="419.3" r="2.7"/><circle cx="651.6" cy="416.2" r="2.7"/><circle cx="651.6" cy="433.3" r="2.7"/><circle cx="563.7" cy="429.4" r="2.7"/><circle cx="583.1" cy="426.3" r="2.7"/><circle cx="576.9" cy="433.3" r="2.7"/><circle cx="583.1" cy="434.8" r="2.7"/><circle cx="562.1" cy="437.9" r="2.7"/><circle cx="594.8" cy="439.5" r="2.7"/><circle cx="597.9" cy="444.2" r="2.7"/><circle cx="614.3" cy="444.2" r="2.7"/><circle cx="626.7" cy="437.9" r="2.7"/><circle cx="643.8" cy="442.6" r="2.7"/><circle cx="642.3" cy="447.3" r="2.7"/><circle cx="639.2" cy="451.9" r="2.7"/><circle cx="637.6" cy="456.6" r="2.7"/><circle cx="636.1" cy="462.8" r="2.7"/><circle cx="634.5" cy="467.5" r="2.7"/><circle cx="632.9" cy="473.7" r="2.7"/><circle cx="631.4" cy="476.9" r="2.7"/><circle cx="651.6" cy="455.1" r="2.7"/><circle cx="653.2" cy="467.5" r="2.7"/><circle cx="650.1" cy="461.3" r="2.7"/><circle cx="545.0" cy="449.6" r="2.7"/><circle cx="562.9" cy="451.9" r="2.7"/><circle cx="559.8" cy="458.2" r="2.7"/><circle cx="571.5" cy="455.1" r="2.7"/><circle cx="570.7" cy="459.0" r="2.7"/><circle cx="587.8" cy="456.6" r="2.7"/><circle cx="604.9" cy="458.2" r="2.7"/><circle cx="611.2" cy="461.3" r="2.7"/><circle cx="614.3" cy="466.0" r="2.7"/><circle cx="604.9" cy="472.2" r="2.7"/><circle cx="606.5" cy="476.9" r="2.7"/><circle cx="609.6" cy="480.0" r="2.7"/><circle cx="614.3" cy="483.1" r="2.7"/><circle cx="562.1" cy="475.3" r="2.7"/><circle cx="581.6" cy="476.9" r="2.7"/><circle cx="589.4" cy="476.9" r="2.7"/><circle cx="524.0" cy="472.2" r="2.7"/><circle cx="542.7" cy="487.7" r="2.7"/><circle cx="547.3" cy="486.2" r="2.7"/><circle cx="592.5" cy="483.1" r="2.7"/><circle cx="600.3" cy="486.2" r="2.7"/><circle cx="626.7" cy="487.7" r="2.7"/><circle cx="629.8" cy="492.4" r="2.7"/><circle cx="671.9" cy="451.9" r="2.7"/><circle cx="671.9" cy="464.4" r="2.7"/><circle cx="661.0" cy="439.5" r="2.7"/><circle cx="625.0" cy="480.6" r="2.7"/><circle cx="572.1" cy="429.0" r="2.7"/><circle cx="652.7" cy="461.7" r="2.7"/><circle cx="639.3" cy="476.4" r="2.7"/><circle cx="633.3" cy="469.7" r="2.7"/><circle cx="671.6" cy="428.1" r="2.7"/><circle cx="540.6" cy="373.3" r="2.7"/><circle cx="603.2" cy="430.9" r="2.7"/><circle cx="641.3" cy="486.9" r="2.7"/><circle cx="627.4" cy="341.1" r="2.7"/><circle cx="590.1" cy="435.2" r="2.7"/><circle cx="560.9" cy="476.7" r="2.7"/><circle cx="607.7" cy="485.5" r="2.7"/><circle cx="607.6" cy="350.3" r="2.7"/><circle cx="602.4" cy="447.7" r="2.7"/><circle cx="669.1" cy="415.7" r="2.7"/><circle cx="674.2" cy="372.8" r="2.7"/><circle cx="614.8" cy="466.8" r="2.7"/><circle cx="649.9" cy="426.9" r="2.7"/><circle cx="583.1" cy="354.7" r="2.7"/><circle cx="573.1" cy="436.0" r="2.7"/><circle cx="647.3" cy="349.2" r="2.7"/><circle cx="631.1" cy="452.2" r="2.7"/><circle cx="670.0" cy="435.7" r="2.7"/><circle cx="651.7" cy="433.4" r="2.7"/><circle cx="541.3" cy="358.9" r="2.7"/><circle cx="658.8" cy="427.3" r="2.7"/><circle cx="649.9" cy="376.3" r="2.7"/><circle cx="627.7" cy="421.6" r="2.7"/><circle cx="655.6" cy="432.7" r="2.7"/><circle cx="564.4" cy="448.5" r="2.7"/><circle cx="622.0" cy="447.4" r="2.7"/><circle cx="604.8" cy="471.5" r="2.7"/><circle cx="571.3" cy="448.4" r="2.7"/><circle cx="597.0" cy="474.7" r="2.7"/><circle cx="583.3" cy="427.9" r="2.7"/><circle cx="652.9" cy="438.7" r="2.7"/><circle cx="582.0" cy="421.7" r="2.7"/><circle cx="543.4" cy="477.9" r="2.7"/><circle cx="586.5" cy="476.0" r="2.7"/><circle cx="674.9" cy="415.9" r="2.7"/><circle cx="603.1" cy="392.5" r="2.7"/><circle cx="634.5" cy="415.1" r="2.7"/><circle cx="646.0" cy="448.2" r="2.7"/><circle cx="672.8" cy="477.5" r="2.7"/><circle cx="512.7" cy="474.4" r="2.7"/><circle cx="631.5" cy="340.3" r="2.7"/><circle cx="662.5" cy="417.1" r="2.7"/><circle cx="662.6" cy="417.3" r="2.7"/><circle cx="603.1" cy="484.4" r="2.7"/><circle cx="603.5" cy="357.7" r="2.7"/><circle cx="631.1" cy="399.4" r="2.7"/><circle cx="600.4" cy="353.0" r="2.7"/><circle cx="541.0" cy="354.0" r="2.7"/><circle cx="597.2" cy="356.0" r="2.7"/><circle cx="629.7" cy="408.4" r="2.7"/><circle cx="598.3" cy="357.1" r="2.7"/><circle cx="654.8" cy="457.6" r="2.7"/><circle cx="654.3" cy="383.4" r="2.7"/><circle cx="616.6" cy="361.1" r="2.7"/><circle cx="559.0" cy="438.4" r="2.7"/><circle cx="619.0" cy="432.3" r="2.7"/><circle cx="587.7" cy="426.9" r="2.7"/><circle cx="571.8" cy="441.0" r="2.7"/><circle cx="644.8" cy="434.5" r="2.7"/><circle cx="619.2" cy="459.3" r="2.7"/><circle cx="597.5" cy="350.9" r="2.7"/><circle cx="582.4" cy="471.4" r="2.7"/><circle cx="538.6" cy="365.4" r="2.7"/><circle cx="608.3" cy="366.5" r="2.7"/><circle cx="575.5" cy="455.1" r="2.7"/><circle cx="549.6" cy="366.5" r="2.7"/><circle cx="602.7" cy="466.3" r="2.7"/><circle cx="597.0" cy="471.7" r="2.7"/><circle cx="561.2" cy="489.7" r="2.7"/><circle cx="567.8" cy="425.0" r="2.7"/><circle cx="664.3" cy="419.3" r="2.7"/><circle cx="606.8" cy="369.8" r="2.7"/><circle cx="594.4" cy="474.9" r="2.7"/><circle cx="647.5" cy="470.6" r="2.7"/><circle cx="605.1" cy="372.7" r="2.7"/><circle cx="634.2" cy="478.3" r="2.7"/><circle cx="536.8" cy="487.7" r="2.7"/><circle cx="670.1" cy="418.2" r="2.7"/><circle cx="672.1" cy="454.4" r="2.7"/><circle cx="545.8" cy="361.4" r="2.7"/><circle cx="642.1" cy="386.4" r="2.7"/><circle cx="547.2" cy="482.5" r="2.7"/><circle cx="569.0" cy="454.7" r="2.7"/><circle cx="671.9" cy="424.0" r="2.7"/><circle cx="646.9" cy="415.9" r="2.7"/><circle cx="634.9" cy="375.2" r="2.7"/><circle cx="639.4" cy="439.3" r="2.7"/><circle cx="649.8" cy="419.6" r="2.7"/><circle cx="646.8" cy="383.2" r="2.7"/><circle cx="612.3" cy="429.9" r="2.7"/><circle cx="597.3" cy="437.8" r="2.7"/><circle cx="635.4" cy="426.9" r="2.7"/><circle cx="584.8" cy="440.6" r="2.7"/><circle cx="560.6" cy="357.9" r="2.7"/><circle cx="569.0" cy="448.4" r="2.7"/><circle cx="591.6" cy="440.3" r="2.7"/><circle cx="660.9" cy="438.9" r="2.7"/><circle cx="657.0" cy="429.8" r="2.7"/><circle cx="619.3" cy="483.2" r="2.7"/><circle cx="662.9" cy="411.7" r="2.7"/><circle cx="635.3" cy="485.2" r="2.7"/><circle cx="659.1" cy="384.2" r="2.7"/><circle cx="539.2" cy="379.9" r="2.7"/><circle cx="648.1" cy="453.1" r="2.7"/><circle cx="536.8" cy="364.6" r="2.7"/><circle cx="547.2" cy="374.7" r="2.7"/><circle cx="544.9" cy="377.4" r="2.7"/><circle cx="571.4" cy="352.3" r="2.7"/><circle cx="557.4" cy="382.7" r="2.7"/><circle cx="594.8" cy="368.0" r="2.7"/><circle cx="624.7" cy="344.9" r="2.7"/><circle cx="602.7" cy="351.2" r="2.7"/><circle cx="614.9" cy="391.0" r="2.7"/><circle cx="601.5" cy="348.2" r="2.7"/><circle cx="655.3" cy="370.6" r="2.7"/><circle cx="662.6" cy="369.1" r="2.7"/><circle cx="658.6" cy="385.3" r="2.7"/><circle cx="652.6" cy="363.9" r="2.7"/><circle cx="674.3" cy="353.7" r="2.7"/><circle cx="558.9" cy="414.0" r="2.7"/><circle cx="562.9" cy="400.2" r="2.7"/><circle cx="574.2" cy="412.1" r="2.7"/><circle cx="526.9" cy="408.0" r="2.7"/><circle cx="544.4" cy="394.7" r="2.7"/><circle cx="596.3" cy="415.4" r="2.7"/><circle cx="610.6" cy="412.0" r="2.7"/><circle cx="588.5" cy="405.4" r="2.7"/><circle cx="612.8" cy="441.9" r="2.7"/><circle cx="601.9" cy="405.2" r="2.7"/><circle cx="666.9" cy="414.0" r="2.7"/><circle cx="636.8" cy="400.6" r="2.7"/><circle cx="665.6" cy="435.3" r="2.7"/><circle cx="658.3" cy="417.9" r="2.7"/><circle cx="654.7" cy="405.5" r="2.7"/><circle cx="573.2" cy="463.0" r="2.7"/><circle cx="556.6" cy="486.8" r="2.7"/><circle cx="565.6" cy="468.9" r="2.7"/><circle cx="539.0" cy="473.0" r="2.7"/><circle cx="530.4" cy="487.5" r="2.7"/><circle cx="593.1" cy="488.4" r="2.7"/><circle cx="588.6" cy="464.2" r="2.7"/><circle cx="587.9" cy="466.7" r="2.7"/><circle cx="584.5" cy="445.1" r="2.7"/><circle cx="611.8" cy="459.3" r="2.7"/><circle cx="638.5" cy="460.4" r="2.7"/><circle cx="650.5" cy="466.9" r="2.7"/><circle cx="658.5" cy="478.6" r="2.7"/><circle cx="644.5" cy="492.4" r="2.7"/><circle cx="669.6" cy="447.9" r="2.7"/><circle cx="719.2" cy="389.2" r="2.7"/><circle cx="717.0" cy="350.2" r="2.7"/><circle cx="719.4" cy="375.3" r="2.7"/><circle cx="677.8" cy="343.6" r="2.7"/><circle cx="725.5" cy="376.5" r="2.7"/><circle cx="689.8" cy="348.2" r="2.7"/><circle cx="684.3" cy="354.9" r="2.7"/><circle cx="716.6" cy="360.7" r="2.7"/><circle cx="684.8" cy="389.1" r="2.7"/><circle cx="717.4" cy="351.6" r="2.7"/><circle cx="722.4" cy="374.0" r="2.7"/><circle cx="716.8" cy="377.1" r="2.7"/><circle cx="722.6" cy="383.2" r="2.7"/><circle cx="719.8" cy="353.1" r="2.7"/><circle cx="712.3" cy="370.1" r="2.7"/><circle cx="714.8" cy="365.4" r="2.7"/><circle cx="722.0" cy="371.3" r="2.7"/><circle cx="690.5" cy="354.9" r="2.7"/><circle cx="684.1" cy="368.1" r="2.7"/><circle cx="680.0" cy="366.8" r="2.7"/><circle cx="684.4" cy="368.1" r="2.7"/><circle cx="702.4" cy="370.5" r="2.7"/><circle cx="721.0" cy="343.3" r="2.7"/><circle cx="719.9" cy="366.9" r="2.7"/><circle cx="705.7" cy="376.9" r="2.7"/><circle cx="719.9" cy="362.1" r="2.7"/><circle cx="698.4" cy="392.0" r="2.7"/><circle cx="680.8" cy="375.5" r="2.7"/><circle cx="709.4" cy="344.5" r="2.7"/><circle cx="708.1" cy="377.8" r="2.7"/><circle cx="724.5" cy="359.9" r="2.7"/><circle cx="727.1" cy="369.0" r="2.7"/><circle cx="701.7" cy="388.8" r="2.7"/><circle cx="678.7" cy="379.6" r="2.7"/><circle cx="708.9" cy="360.3" r="2.7"/><circle cx="720.9" cy="361.7" r="2.7"/><circle cx="701.2" cy="369.8" r="2.7"/><circle cx="716.3" cy="353.7" r="2.7"/><circle cx="750.2" cy="364.5" r="2.7"/><circle cx="756.3" cy="385.2" r="2.7"/><circle cx="742.9" cy="385.2" r="2.7"/><circle cx="748.6" cy="368.7" r="2.7"/><circle cx="741.9" cy="368.8" r="2.7"/><circle cx="777.7" cy="376.4" r="2.7"/><circle cx="768.4" cy="359.9" r="2.7"/><circle cx="744.2" cy="358.3" r="2.7"/><circle cx="757.9" cy="375.4" r="2.7"/><circle cx="768.0" cy="345.0" r="2.7"/><circle cx="764.9" cy="388.2" r="2.7"/><circle cx="755.8" cy="345.5" r="2.7"/><circle cx="743.3" cy="343.3" r="2.7"/><circle cx="737.7" cy="390.0" r="2.7"/><circle cx="759.0" cy="376.6" r="2.7"/><circle cx="768.2" cy="389.4" r="2.7"/><circle cx="759.2" cy="374.5" r="2.7"/><circle cx="760.0" cy="378.5" r="2.7"/><circle cx="758.4" cy="377.7" r="2.7"/><circle cx="738.8" cy="377.0" r="2.7"/><circle cx="751.3" cy="381.9" r="2.7"/><circle cx="733.2" cy="352.2" r="2.7"/><circle cx="729.9" cy="382.5" r="2.7"/><circle cx="774.6" cy="376.4" r="2.7"/><circle cx="746.8" cy="385.0" r="2.7"/><circle cx="768.1" cy="371.7" r="2.7"/><circle cx="741.2" cy="358.4" r="2.7"/><circle cx="749.5" cy="359.2" r="2.7"/><circle cx="750.0" cy="375.7" r="2.7"/><circle cx="775.6" cy="345.8" r="2.7"/><circle cx="756.9" cy="345.0" r="2.7"/><circle cx="734.1" cy="384.3" r="2.7"/><circle cx="757.3" cy="389.8" r="2.7"/><circle cx="750.8" cy="343.7" r="2.7"/><circle cx="747.7" cy="373.2" r="2.7"/><circle cx="775.8" cy="393.0" r="2.7"/><circle cx="752.2" cy="364.0" r="2.7"/><circle cx="733.2" cy="375.9" r="2.7"/><circle cx="738.8" cy="350.7" r="2.7"/><circle cx="728.8" cy="343.2" r="2.7"/><circle cx="762.9" cy="349.2" r="2.7"/><circle cx="777.3" cy="347.5" r="2.7"/><circle cx="772.3" cy="349.6" r="2.7"/><circle cx="728.9" cy="379.7" r="2.7"/><circle cx="740.4" cy="380.4" r="2.7"/><circle cx="788.6" cy="345.6" r="2.7"/><circle cx="818.5" cy="379.4" r="2.7"/><circle cx="822.6" cy="380.2" r="2.7"/><circle cx="783.3" cy="375.1" r="2.7"/><circle cx="815.2" cy="366.5" r="2.7"/><circle cx="826.5" cy="356.0" r="2.7"/><circle cx="828.2" cy="379.6" r="2.7"/><circle cx="779.6" cy="343.8" r="2.7"/><circle cx="812.2" cy="384.7" r="2.7"/><circle cx="783.1" cy="358.9" r="2.7"/><circle cx="816.2" cy="351.5" r="2.7"/><circle cx="822.9" cy="367.8" r="2.7"/><circle cx="782.0" cy="361.7" r="2.7"/><circle cx="808.3" cy="365.4" r="2.7"/><circle cx="813.5" cy="350.4" r="2.7"/><circle cx="819.7" cy="361.5" r="2.7"/><circle cx="811.9" cy="375.1" r="2.7"/><circle cx="800.3" cy="362.7" r="2.7"/><circle cx="819.1" cy="391.2" r="2.7"/><circle cx="819.0" cy="371.9" r="2.7"/><circle cx="793.9" cy="346.1" r="2.7"/><circle cx="828.7" cy="378.9" r="2.7"/><circle cx="719.2" cy="410.9" r="2.7"/><circle cx="707.9" cy="443.8" r="2.7"/><circle cx="719.4" cy="424.7" r="2.7"/><circle cx="692.7" cy="415.9" r="2.7"/><circle cx="722.3" cy="413.2" r="2.7"/><circle cx="711.9" cy="424.7" r="2.7"/><circle cx="722.7" cy="435.2" r="2.7"/><circle cx="691.4" cy="394.1" r="2.7"/><circle cx="690.4" cy="415.5" r="2.7"/><circle cx="706.9" cy="435.6" r="2.7"/><circle cx="722.3" cy="396.2" r="2.7"/><circle cx="719.5" cy="435.4" r="2.7"/><circle cx="721.2" cy="423.2" r="2.7"/><circle cx="691.0" cy="437.4" r="2.7"/><circle cx="718.2" cy="428.9" r="2.7"/><circle cx="723.6" cy="411.7" r="2.7"/><circle cx="681.3" cy="422.2" r="2.7"/><circle cx="717.7" cy="404.2" r="2.7"/><circle cx="715.3" cy="441.5" r="2.7"/><circle cx="688.9" cy="424.9" r="2.7"/><circle cx="711.6" cy="417.7" r="2.7"/><circle cx="687.5" cy="407.0" r="2.7"/><circle cx="715.3" cy="434.4" r="2.7"/><circle cx="700.4" cy="398.5" r="2.7"/><circle cx="718.1" cy="433.4" r="2.7"/><circle cx="688.9" cy="423.6" r="2.7"/><circle cx="722.7" cy="439.1" r="2.7"/><circle cx="703.6" cy="418.3" r="2.7"/><circle cx="707.1" cy="403.6" r="2.7"/><circle cx="686.8" cy="403.2" r="2.7"/><circle cx="712.8" cy="412.5" r="2.7"/><circle cx="705.8" cy="414.5" r="2.7"/><circle cx="703.4" cy="401.6" r="2.7"/><circle cx="679.3" cy="444.9" r="2.7"/><circle cx="696.1" cy="399.4" r="2.7"/><circle cx="709.3" cy="434.2" r="2.7"/><circle cx="685.0" cy="424.5" r="2.7"/><circle cx="694.6" cy="420.5" r="2.7"/><circle cx="729.0" cy="395.7" r="2.7"/><circle cx="778.5" cy="438.2" r="2.7"/><circle cx="752.8" cy="422.9" r="2.7"/><circle cx="741.3" cy="433.7" r="2.7"/><circle cx="749.7" cy="442.3" r="2.7"/><circle cx="767.1" cy="435.8" r="2.7"/><circle cx="777.1" cy="407.0" r="2.7"/><circle cx="729.9" cy="404.2" r="2.7"/><circle cx="737.2" cy="398.3" r="2.7"/><circle cx="730.6" cy="422.4" r="2.7"/><circle cx="772.4" cy="417.4" r="2.7"/><circle cx="776.3" cy="440.4" r="2.7"/><circle cx="731.3" cy="424.5" r="2.7"/><circle cx="748.3" cy="400.1" r="2.7"/><circle cx="776.9" cy="407.1" r="2.7"/><circle cx="756.8" cy="426.7" r="2.7"/><circle cx="776.8" cy="428.2" r="2.7"/><circle cx="748.0" cy="416.9" r="2.7"/><circle cx="736.1" cy="443.3" r="2.7"/><circle cx="778.6" cy="405.3" r="2.7"/><circle cx="730.0" cy="407.0" r="2.7"/><circle cx="746.0" cy="440.0" r="2.7"/><circle cx="774.1" cy="436.7" r="2.7"/><circle cx="730.4" cy="434.1" r="2.7"/><circle cx="764.2" cy="427.0" r="2.7"/><circle cx="778.3" cy="396.8" r="2.7"/><circle cx="735.4" cy="432.5" r="2.7"/><circle cx="775.9" cy="428.5" r="2.7"/><circle cx="743.2" cy="424.2" r="2.7"/><circle cx="766.7" cy="399.4" r="2.7"/><circle cx="744.5" cy="407.1" r="2.7"/><circle cx="734.3" cy="418.5" r="2.7"/><circle cx="736.6" cy="406.2" r="2.7"/><circle cx="735.3" cy="428.6" r="2.7"/><circle cx="728.6" cy="430.6" r="2.7"/><circle cx="737.9" cy="395.8" r="2.7"/><circle cx="775.3" cy="405.2" r="2.7"/><circle cx="775.6" cy="438.2" r="2.7"/><circle cx="773.3" cy="401.1" r="2.7"/><circle cx="750.8" cy="398.9" r="2.7"/><circle cx="775.4" cy="437.0" r="2.7"/><circle cx="760.0" cy="417.1" r="2.7"/><circle cx="745.3" cy="436.0" r="2.7"/><circle cx="752.4" cy="426.0" r="2.7"/><circle cx="735.3" cy="405.3" r="2.7"/><circle cx="781.9" cy="430.4" r="2.7"/><circle cx="807.2" cy="401.4" r="2.7"/><circle cx="823.4" cy="407.6" r="2.7"/><circle cx="800.0" cy="401.9" r="2.7"/><circle cx="792.8" cy="436.8" r="2.7"/><circle cx="796.1" cy="402.6" r="2.7"/><circle cx="804.0" cy="410.2" r="2.7"/><circle cx="825.1" cy="399.8" r="2.7"/><circle cx="828.9" cy="396.9" r="2.7"/><circle cx="824.6" cy="428.1" r="2.7"/><circle cx="789.8" cy="418.3" r="2.7"/><circle cx="793.6" cy="407.1" r="2.7"/><circle cx="789.3" cy="412.6" r="2.7"/><circle cx="829.5" cy="444.9" r="2.7"/><circle cx="826.2" cy="399.0" r="2.7"/><circle cx="793.8" cy="439.7" r="2.7"/><circle cx="781.9" cy="431.0" r="2.7"/><circle cx="794.0" cy="443.9" r="2.7"/><circle cx="779.8" cy="435.2" r="2.7"/><circle cx="796.4" cy="401.1" r="2.7"/><circle cx="779.1" cy="436.4" r="2.7"/><circle cx="805.9" cy="403.5" r="2.7"/><circle cx="699.2" cy="491.5" r="2.7"/><circle cx="688.1" cy="474.1" r="2.7"/><circle cx="684.0" cy="454.2" r="2.7"/><circle cx="716.3" cy="481.3" r="2.7"/><circle cx="687.0" cy="449.0" r="2.7"/><circle cx="681.5" cy="476.0" r="2.7"/><circle cx="702.3" cy="459.0" r="2.7"/><circle cx="687.5" cy="476.2" r="2.7"/><circle cx="713.1" cy="486.4" r="2.7"/><circle cx="706.7" cy="455.3" r="2.7"/><circle cx="680.4" cy="482.4" r="2.7"/><circle cx="697.8" cy="481.8" r="2.7"/><circle cx="679.8" cy="486.3" r="2.7"/><circle cx="694.1" cy="487.9" r="2.7"/><circle cx="721.1" cy="470.1" r="2.7"/><circle cx="677.8" cy="491.4" r="2.7"/><circle cx="701.3" cy="489.5" r="2.7"/><circle cx="690.6" cy="454.5" r="2.7"/><circle cx="719.4" cy="463.7" r="2.7"/><circle cx="685.3" cy="463.9" r="2.7"/><circle cx="707.3" cy="445.2" r="2.7"/><circle cx="703.5" cy="467.7" r="2.7"/><circle cx="703.3" cy="451.2" r="2.7"/><circle cx="713.4" cy="486.6" r="2.7"/><circle cx="721.1" cy="461.4" r="2.7"/><circle cx="713.3" cy="464.4" r="2.7"/><circle cx="715.3" cy="448.1" r="2.7"/><circle cx="721.5" cy="493.7" r="2.7"/><circle cx="702.2" cy="471.2" r="2.7"/><circle cx="704.1" cy="472.4" r="2.7"/><circle cx="678.1" cy="494.3" r="2.7"/><circle cx="688.4" cy="454.3" r="2.7"/><circle cx="682.2" cy="457.8" r="2.7"/><circle cx="718.7" cy="446.5" r="2.7"/><circle cx="681.9" cy="480.6" r="2.7"/><circle cx="686.9" cy="445.9" r="2.7"/><circle cx="707.6" cy="474.4" r="2.7"/><circle cx="703.7" cy="480.8" r="2.7"/><circle cx="682.2" cy="489.3" r="2.7"/><circle cx="713.6" cy="447.3" r="2.7"/><circle cx="683.3" cy="470.2" r="2.7"/><circle cx="702.5" cy="459.3" r="2.7"/><circle cx="683.2" cy="465.7" r="2.7"/><circle cx="684.0" cy="475.2" r="2.7"/><circle cx="720.9" cy="452.5" r="2.7"/><circle cx="757.2" cy="483.1" r="2.7"/><circle cx="736.4" cy="487.1" r="2.7"/><circle cx="775.8" cy="464.8" r="2.7"/><circle cx="749.4" cy="487.8" r="2.7"/><circle cx="754.8" cy="465.2" r="2.7"/><circle cx="776.0" cy="484.6" r="2.7"/><circle cx="745.3" cy="457.3" r="2.7"/><circle cx="745.1" cy="467.2" r="2.7"/><circle cx="778.0" cy="486.0" r="2.7"/><circle cx="774.5" cy="486.6" r="2.7"/><circle cx="771.2" cy="447.7" r="2.7"/><circle cx="754.4" cy="493.8" r="2.7"/><circle cx="775.6" cy="457.7" r="2.7"/><circle cx="749.5" cy="477.3" r="2.7"/><circle cx="746.6" cy="472.1" r="2.7"/><circle cx="731.5" cy="467.1" r="2.7"/><circle cx="753.7" cy="446.1" r="2.7"/><circle cx="735.1" cy="494.5" r="2.7"/><circle cx="767.6" cy="492.8" r="2.7"/><circle cx="760.3" cy="486.3" r="2.7"/><circle cx="773.1" cy="490.1" r="2.7"/><circle cx="729.8" cy="477.7" r="2.7"/><circle cx="741.6" cy="479.6" r="2.7"/><circle cx="741.9" cy="472.7" r="2.7"/><circle cx="775.1" cy="476.7" r="2.7"/><circle cx="740.8" cy="471.5" r="2.7"/><circle cx="750.1" cy="493.5" r="2.7"/><circle cx="742.7" cy="460.6" r="2.7"/><circle cx="761.0" cy="451.1" r="2.7"/><circle cx="758.3" cy="493.8" r="2.7"/><circle cx="754.2" cy="458.7" r="2.7"/><circle cx="751.8" cy="472.2" r="2.7"/><circle cx="735.6" cy="451.3" r="2.7"/><circle cx="734.7" cy="460.0" r="2.7"/><circle cx="748.7" cy="459.7" r="2.7"/><circle cx="740.4" cy="449.5" r="2.7"/><circle cx="755.9" cy="487.8" r="2.7"/><circle cx="759.1" cy="474.1" r="2.7"/><circle cx="812.2" cy="455.3" r="2.7"/><circle cx="815.2" cy="468.5" r="2.7"/><circle cx="806.9" cy="476.2" r="2.7"/><circle cx="802.9" cy="460.8" r="2.7"/><circle cx="791.4" cy="456.3" r="2.7"/><circle cx="805.1" cy="464.5" r="2.7"/><circle cx="808.9" cy="445.6" r="2.7"/><circle cx="797.0" cy="489.0" r="2.7"/><circle cx="791.2" cy="473.4" r="2.7"/><circle cx="804.1" cy="459.5" r="2.7"/><circle cx="829.4" cy="460.1" r="2.7"/><circle cx="818.4" cy="453.1" r="2.7"/><circle cx="782.4" cy="489.4" r="2.7"/><circle cx="801.4" cy="448.2" r="2.7"/><circle cx="798.8" cy="467.4" r="2.7"/><circle cx="816.5" cy="450.6" r="2.7"/><circle cx="790.5" cy="493.9" r="2.7"/><circle cx="816.7" cy="452.9" r="2.7"/><circle cx="796.2" cy="463.0" r="2.7"/><circle cx="813.4" cy="476.4" r="2.7"/><circle cx="822.3" cy="486.9" r="2.7"/><circle cx="805.4" cy="482.7" r="2.7"/><circle cx="841.8" cy="347.7" r="2.7"/><circle cx="839.2" cy="357.9" r="2.7"/><circle cx="830.9" cy="363.4" r="2.7"/><circle cx="841.5" cy="372.0" r="2.7"/><circle cx="842.8" cy="376.7" r="2.7"/><circle cx="859.5" cy="377.2" r="2.7"/><circle cx="847.0" cy="385.3" r="2.7"/><circle cx="848.6" cy="390.0" r="2.7"/><circle cx="848.6" cy="393.4" r="2.7"/><circle cx="861.9" cy="388.4" r="2.7"/><circle cx="836.5" cy="403.3" r="2.7"/><circle cx="838.1" cy="413.8" r="2.7"/><circle cx="849.4" cy="411.9" r="2.7"/><circle cx="867.4" cy="410.4" r="2.7"/><circle cx="868.2" cy="413.5" r="2.7"/><circle cx="832.1" cy="422.1" r="2.7"/><circle cx="854.4" cy="423.2" r="2.7"/><circle cx="855.3" cy="444.0" r="2.7"/><circle cx="835.6" cy="449.2" r="2.7"/><circle cx="850.9" cy="450.6" r="2.7"/><circle cx="858.0" cy="450.6" r="2.7"/><circle cx="877.9" cy="454.5" r="2.7"/><circle cx="862.7" cy="464.4" r="2.7"/><circle cx="834.0" cy="481.2" r="2.7"/><circle cx="840.3" cy="483.5" r="2.7"/><circle cx="849.1" cy="481.6" r="2.7"/><circle cx="857.5" cy="489.5" r="2.7"/><circle cx="864.7" cy="489.5" r="2.7"/><circle cx="835.6" cy="494.2" r="2.7"/><circle cx="833.7" cy="382.2" r="2.7"/><circle cx="381.3" cy="499.9" r="2.7"/><circle cx="375.9" cy="506.6" r="2.7"/><circle cx="396.1" cy="498.3" r="2.7"/><circle cx="398.5" cy="496.8" r="2.7"/><circle cx="373.6" cy="527.1" r="2.7"/><circle cx="416.0" cy="543.9" r="2.7"/><circle cx="403.9" cy="559.0" r="2.7"/><circle cx="409.4" cy="561.1" r="2.7"/><circle cx="404.7" cy="567.6" r="2.7"/><circle cx="396.6" cy="570.7" r="2.7"/><circle cx="402.4" cy="571.5" r="2.7"/><circle cx="445.2" cy="510.0" r="2.7"/><circle cx="483.3" cy="522.5" r="2.7"/><circle cx="500.4" cy="519.3" r="2.7"/><circle cx="511.3" cy="520.9" r="2.7"/><circle cx="490.3" cy="538.0" r="2.7"/><circle cx="502.4" cy="536.8" r="2.7"/><circle cx="498.4" cy="543.5" r="2.7"/><circle cx="496.5" cy="546.6" r="2.7"/><circle cx="466.9" cy="549.7" r="2.7"/><circle cx="479.7" cy="554.8" r="2.7"/><circle cx="490.0" cy="559.0" r="2.7"/><circle cx="488.4" cy="562.9" r="2.7"/><circle cx="500.9" cy="569.9" r="2.7"/><circle cx="516.4" cy="568.4" r="2.7"/><circle cx="517.5" cy="534.9" r="2.7"/><circle cx="521.4" cy="540.4" r="2.7"/><circle cx="512.9" cy="556.7" r="2.7"/><circle cx="477.8" cy="581.6" r="2.7"/><circle cx="486.4" cy="581.6" r="2.7"/><circle cx="463.1" cy="585.5" r="2.7"/><circle cx="477.8" cy="586.3" r="2.7"/><circle cx="505.9" cy="580.8" r="2.7"/><circle cx="507.4" cy="585.5" r="2.7"/><circle cx="458.8" cy="591.3" r="2.7"/><circle cx="466.2" cy="596.4" r="2.7"/><circle cx="480.2" cy="594.1" r="2.7"/><circle cx="504.0" cy="593.7" r="2.7"/><circle cx="460.7" cy="606.2" r="2.7"/><circle cx="473.5" cy="606.5" r="2.7"/><circle cx="476.3" cy="601.5" r="2.7"/><circle cx="449.5" cy="607.3" r="2.7"/><circle cx="456.8" cy="614.3" r="2.7"/><circle cx="470.4" cy="612.7" r="2.7"/><circle cx="479.9" cy="610.4" r="2.7"/><circle cx="374.8" cy="610.4" r="2.7"/><circle cx="442.8" cy="621.3" r="2.7"/><circle cx="438.6" cy="626.7" r="2.7"/><circle cx="450.6" cy="624.9" r="2.7"/><circle cx="462.3" cy="626.0" r="2.7"/><circle cx="461.5" cy="629.5" r="2.7"/><circle cx="479.7" cy="623.6" r="2.7"/><circle cx="488.4" cy="624.9" r="2.7"/><circle cx="504.3" cy="628.3" r="2.7"/><circle cx="502.7" cy="633.0" r="2.7"/><circle cx="501.2" cy="637.6" r="2.7"/><circle cx="498.8" cy="641.5" r="2.7"/><circle cx="497.3" cy="643.1" r="2.7"/><circle cx="510.5" cy="636.9" r="2.7"/><circle cx="520.6" cy="637.9" r="2.7"/><circle cx="432.7" cy="636.9" r="2.7"/><circle cx="443.9" cy="636.9" r="2.7"/><circle cx="440.5" cy="642.3" r="2.7"/><circle cx="463.1" cy="640.7" r="2.7"/><circle cx="480.9" cy="639.2" r="2.7"/><circle cx="452.9" cy="645.4" r="2.7"/><circle cx="426.8" cy="646.2" r="2.7"/><circle cx="431.7" cy="645.3" r="2.7"/><circle cx="500.0" cy="538.2" r="2.7"/><circle cx="489.2" cy="616.9" r="2.7"/><circle cx="448.0" cy="652.1" r="2.7"/><circle cx="457.8" cy="554.9" r="2.7"/><circle cx="506.5" cy="525.4" r="2.7"/><circle cx="509.2" cy="642.3" r="2.7"/><circle cx="368.9" cy="615.2" r="2.7"/><circle cx="461.9" cy="625.4" r="2.7"/><circle cx="459.3" cy="644.2" r="2.7"/><circle cx="462.8" cy="600.1" r="2.7"/><circle cx="448.4" cy="623.6" r="2.7"/><circle cx="451.7" cy="624.6" r="2.7"/><circle cx="481.8" cy="585.2" r="2.7"/><circle cx="514.4" cy="623.5" r="2.7"/><circle cx="405.9" cy="499.1" r="2.7"/><circle cx="460.8" cy="647.8" r="2.7"/><circle cx="452.6" cy="601.4" r="2.7"/><circle cx="431.2" cy="637.6" r="2.7"/><circle cx="496.8" cy="641.2" r="2.7"/><circle cx="479.0" cy="610.6" r="2.7"/><circle cx="402.0" cy="567.2" r="2.7"/><circle cx="429.9" cy="626.7" r="2.7"/><circle cx="478.2" cy="539.1" r="2.7"/><circle cx="432.1" cy="648.2" r="2.7"/><circle cx="569.9" cy="526.0" r="2.7"/><circle cx="559.3" cy="534.1" r="2.7"/><circle cx="528.7" cy="514.5" r="2.7"/><circle cx="542.7" cy="499.8" r="2.7"/><circle cx="539.8" cy="505.0" r="2.7"/><circle cx="557.5" cy="511.0" r="2.7"/><circle cx="541.5" cy="543.7" r="2.7"/><circle cx="550.0" cy="545.5" r="2.7"/><circle cx="556.2" cy="522.7" r="2.7"/><circle cx="565.6" cy="506.6" r="2.7"/><circle cx="569.5" cy="517.0" r="2.7"/><circle cx="527.1" cy="524.8" r="2.7"/><circle cx="529.4" cy="525.1" r="2.7"/><circle cx="556.2" cy="532.9" r="2.7"/><circle cx="559.3" cy="496.5" r="2.7"/><circle cx="524.1" cy="532.2" r="2.7"/><circle cx="552.2" cy="542.8" r="2.7"/><circle cx="544.3" cy="501.0" r="2.7"/><circle cx="524.8" cy="497.5" r="2.7"/><circle cx="532.9" cy="535.2" r="2.7"/><circle cx="552.9" cy="540.4" r="2.7"/><circle cx="569.7" cy="522.2" r="2.7"/><circle cx="531.3" cy="506.1" r="2.7"/><circle cx="554.7" cy="503.4" r="2.7"/><circle cx="550.4" cy="522.0" r="2.7"/><circle cx="525.5" cy="499.9" r="2.7"/><circle cx="572.3" cy="521.0" r="2.7"/><circle cx="547.8" cy="518.0" r="2.7"/><circle cx="564.8" cy="529.2" r="2.7"/><circle cx="558.9" cy="525.5" r="2.7"/><circle cx="531.3" cy="508.2" r="2.7"/><circle cx="538.0" cy="497.7" r="2.7"/><circle cx="556.1" cy="539.8" r="2.7"/><circle cx="572.3" cy="499.2" r="2.7"/><circle cx="533.8" cy="527.8" r="2.7"/><circle cx="525.0" cy="507.2" r="2.7"/><circle cx="544.2" cy="535.0" r="2.7"/><circle cx="526.2" cy="498.8" r="2.7"/><circle cx="536.2" cy="507.4" r="2.7"/><circle cx="532.1" cy="525.9" r="2.7"/><circle cx="532.8" cy="496.3" r="2.7"/><circle cx="568.2" cy="519.2" r="2.7"/><circle cx="545.3" cy="508.9" r="2.7"/><circle cx="569.2" cy="546.0" r="2.7"/><circle cx="527.4" cy="530.5" r="2.7"/><circle cx="558.4" cy="525.8" r="2.7"/><circle cx="545.1" cy="516.3" r="2.7"/><circle cx="560.3" cy="497.1" r="2.7"/><circle cx="568.3" cy="500.5" r="2.7"/><circle cx="532.7" cy="515.3" r="2.7"/><circle cx="575.4" cy="541.0" r="2.7"/><circle cx="595.2" cy="514.5" r="2.7"/><circle cx="592.1" cy="540.4" r="2.7"/><circle cx="592.1" cy="529.2" r="2.7"/><circle cx="624.0" cy="517.5" r="2.7"/><circle cx="621.6" cy="524.2" r="2.7"/><circle cx="594.8" cy="519.8" r="2.7"/><circle cx="592.6" cy="518.2" r="2.7"/><circle cx="589.2" cy="497.3" r="2.7"/><circle cx="616.0" cy="508.3" r="2.7"/><circle cx="581.6" cy="506.0" r="2.7"/><circle cx="602.8" cy="536.2" r="2.7"/><circle cx="603.3" cy="519.8" r="2.7"/><circle cx="615.5" cy="508.2" r="2.7"/><circle cx="593.8" cy="507.0" r="2.7"/><circle cx="595.7" cy="528.1" r="2.7"/><circle cx="604.6" cy="511.2" r="2.7"/><circle cx="599.3" cy="506.4" r="2.7"/><circle cx="618.8" cy="530.4" r="2.7"/><circle cx="623.0" cy="546.9" r="2.7"/><circle cx="605.4" cy="518.5" r="2.7"/><circle cx="625.5" cy="523.3" r="2.7"/><circle cx="595.6" cy="522.0" r="2.7"/><circle cx="581.4" cy="534.3" r="2.7"/><circle cx="609.6" cy="500.7" r="2.7"/><circle cx="618.4" cy="533.5" r="2.7"/><circle cx="614.0" cy="497.5" r="2.7"/><circle cx="611.6" cy="503.4" r="2.7"/><circle cx="575.8" cy="532.2" r="2.7"/><circle cx="610.4" cy="535.6" r="2.7"/><circle cx="586.8" cy="505.6" r="2.7"/><circle cx="620.5" cy="499.5" r="2.7"/><circle cx="621.6" cy="537.1" r="2.7"/><circle cx="613.7" cy="505.8" r="2.7"/><circle cx="611.7" cy="500.5" r="2.7"/><circle cx="589.7" cy="537.7" r="2.7"/><circle cx="595.3" cy="514.2" r="2.7"/><circle cx="618.1" cy="519.7" r="2.7"/><circle cx="607.0" cy="528.1" r="2.7"/><circle cx="619.0" cy="543.8" r="2.7"/><circle cx="584.0" cy="514.7" r="2.7"/><circle cx="615.8" cy="531.2" r="2.7"/><circle cx="620.7" cy="497.3" r="2.7"/><circle cx="610.9" cy="519.6" r="2.7"/><circle cx="626.0" cy="516.4" r="2.7"/><circle cx="621.2" cy="501.0" r="2.7"/><circle cx="589.9" cy="509.8" r="2.7"/><circle cx="606.1" cy="507.2" r="2.7"/><circle cx="609.5" cy="516.6" r="2.7"/><circle cx="606.0" cy="518.0" r="2.7"/><circle cx="664.6" cy="504.0" r="2.7"/><circle cx="663.7" cy="524.2" r="2.7"/><circle cx="658.1" cy="544.0" r="2.7"/><circle cx="654.8" cy="507.6" r="2.7"/><circle cx="651.4" cy="522.6" r="2.7"/><circle cx="673.2" cy="530.2" r="2.7"/><circle cx="655.3" cy="543.7" r="2.7"/><circle cx="631.7" cy="534.9" r="2.7"/><circle cx="659.4" cy="542.0" r="2.7"/><circle cx="670.6" cy="525.8" r="2.7"/><circle cx="661.5" cy="545.7" r="2.7"/><circle cx="660.7" cy="497.9" r="2.7"/><circle cx="642.2" cy="535.6" r="2.7"/><circle cx="643.6" cy="542.6" r="2.7"/><circle cx="647.3" cy="533.9" r="2.7"/><circle cx="676.9" cy="527.4" r="2.7"/><circle cx="637.3" cy="522.9" r="2.7"/><circle cx="643.8" cy="544.4" r="2.7"/><circle cx="648.6" cy="513.4" r="2.7"/><circle cx="651.7" cy="531.1" r="2.7"/><circle cx="668.8" cy="527.9" r="2.7"/><circle cx="651.9" cy="530.5" r="2.7"/><circle cx="636.5" cy="530.3" r="2.7"/><circle cx="669.2" cy="535.7" r="2.7"/><circle cx="651.0" cy="505.7" r="2.7"/><circle cx="674.6" cy="538.1" r="2.7"/><circle cx="654.5" cy="504.9" r="2.7"/><circle cx="634.3" cy="535.8" r="2.7"/><circle cx="638.0" cy="509.3" r="2.7"/><circle cx="675.1" cy="504.6" r="2.7"/><circle cx="643.7" cy="500.7" r="2.7"/><circle cx="658.5" cy="503.0" r="2.7"/><circle cx="661.0" cy="520.8" r="2.7"/><circle cx="650.6" cy="532.0" r="2.7"/><circle cx="626.3" cy="531.3" r="2.7"/><circle cx="632.8" cy="528.7" r="2.7"/><circle cx="661.6" cy="502.8" r="2.7"/><circle cx="662.1" cy="526.0" r="2.7"/><circle cx="638.3" cy="528.1" r="2.7"/><circle cx="632.0" cy="517.7" r="2.7"/><circle cx="572.0" cy="581.5" r="2.7"/><circle cx="531.9" cy="596.9" r="2.7"/><circle cx="566.8" cy="567.7" r="2.7"/><circle cx="534.5" cy="582.2" r="2.7"/><circle cx="524.6" cy="571.8" r="2.7"/><circle cx="526.2" cy="592.7" r="2.7"/><circle cx="539.5" cy="552.6" r="2.7"/><circle cx="539.8" cy="596.1" r="2.7"/><circle cx="532.2" cy="569.7" r="2.7"/><circle cx="553.0" cy="561.8" r="2.7"/><circle cx="552.4" cy="549.3" r="2.7"/><circle cx="547.9" cy="597.0" r="2.7"/><circle cx="548.8" cy="585.1" r="2.7"/><circle cx="540.9" cy="584.7" r="2.7"/><circle cx="537.5" cy="579.9" r="2.7"/><circle cx="572.8" cy="571.9" r="2.7"/><circle cx="564.0" cy="563.4" r="2.7"/><circle cx="542.3" cy="551.6" r="2.7"/><circle cx="538.6" cy="578.3" r="2.7"/><circle cx="561.3" cy="582.7" r="2.7"/><circle cx="557.3" cy="551.0" r="2.7"/><circle cx="562.1" cy="548.3" r="2.7"/><circle cx="544.2" cy="554.4" r="2.7"/><circle cx="542.8" cy="596.1" r="2.7"/><circle cx="550.8" cy="592.7" r="2.7"/><circle cx="558.8" cy="552.2" r="2.7"/><circle cx="560.7" cy="562.8" r="2.7"/><circle cx="555.5" cy="566.3" r="2.7"/><circle cx="557.0" cy="565.2" r="2.7"/><circle cx="535.7" cy="554.0" r="2.7"/><circle cx="570.9" cy="589.7" r="2.7"/><circle cx="536.9" cy="549.9" r="2.7"/><circle cx="529.5" cy="587.9" r="2.7"/><circle cx="571.0" cy="598.0" r="2.7"/><circle cx="544.6" cy="549.6" r="2.7"/><circle cx="535.0" cy="568.6" r="2.7"/><circle cx="561.3" cy="597.8" r="2.7"/><circle cx="554.7" cy="578.9" r="2.7"/><circle cx="531.2" cy="558.6" r="2.7"/><circle cx="531.1" cy="579.5" r="2.7"/><circle cx="595.5" cy="596.9" r="2.7"/><circle cx="618.4" cy="571.4" r="2.7"/><circle cx="586.1" cy="566.0" r="2.7"/><circle cx="576.6" cy="578.1" r="2.7"/><circle cx="617.5" cy="573.1" r="2.7"/><circle cx="582.3" cy="550.7" r="2.7"/><circle cx="577.8" cy="583.2" r="2.7"/><circle cx="620.4" cy="550.2" r="2.7"/><circle cx="575.4" cy="595.8" r="2.7"/><circle cx="584.0" cy="584.0" r="2.7"/><circle cx="594.3" cy="547.2" r="2.7"/><circle cx="616.0" cy="581.4" r="2.7"/><circle cx="603.9" cy="570.9" r="2.7"/><circle cx="602.7" cy="573.4" r="2.7"/><circle cx="596.8" cy="574.3" r="2.7"/><circle cx="606.9" cy="554.9" r="2.7"/><circle cx="595.5" cy="578.1" r="2.7"/><circle cx="579.2" cy="588.3" r="2.7"/><circle cx="611.9" cy="563.9" r="2.7"/><circle cx="608.6" cy="575.8" r="2.7"/><circle cx="596.5" cy="565.8" r="2.7"/><circle cx="608.5" cy="554.0" r="2.7"/><circle cx="619.1" cy="574.0" r="2.7"/><circle cx="607.3" cy="590.3" r="2.7"/><circle cx="586.3" cy="584.7" r="2.7"/><circle cx="610.3" cy="554.5" r="2.7"/><circle cx="604.5" cy="575.3" r="2.7"/><circle cx="623.1" cy="565.4" r="2.7"/><circle cx="587.3" cy="569.5" r="2.7"/><circle cx="588.3" cy="558.6" r="2.7"/><circle cx="624.4" cy="557.3" r="2.7"/><circle cx="613.2" cy="558.3" r="2.7"/><circle cx="617.7" cy="580.1" r="2.7"/><circle cx="584.6" cy="581.2" r="2.7"/><circle cx="611.2" cy="558.6" r="2.7"/><circle cx="598.4" cy="574.6" r="2.7"/><circle cx="610.5" cy="584.5" r="2.7"/><circle cx="621.4" cy="575.9" r="2.7"/><circle cx="618.4" cy="581.7" r="2.7"/><circle cx="615.8" cy="553.8" r="2.7"/><circle cx="600.7" cy="572.9" r="2.7"/><circle cx="617.8" cy="595.4" r="2.7"/><circle cx="607.0" cy="596.0" r="2.7"/><circle cx="601.3" cy="570.5" r="2.7"/><circle cx="610.0" cy="574.8" r="2.7"/><circle cx="624.4" cy="556.8" r="2.7"/><circle cx="599.2" cy="551.7" r="2.7"/><circle cx="594.0" cy="578.6" r="2.7"/><circle cx="595.6" cy="549.4" r="2.7"/><circle cx="577.1" cy="582.8" r="2.7"/><circle cx="623.7" cy="570.4" r="2.7"/><circle cx="581.1" cy="553.9" r="2.7"/><circle cx="621.3" cy="551.5" r="2.7"/><circle cx="625.4" cy="557.3" r="2.7"/><circle cx="580.8" cy="584.1" r="2.7"/><circle cx="593.1" cy="565.7" r="2.7"/><circle cx="617.9" cy="588.0" r="2.7"/><circle cx="612.5" cy="547.6" r="2.7"/><circle cx="588.0" cy="559.2" r="2.7"/><circle cx="601.2" cy="573.8" r="2.7"/><circle cx="644.2" cy="571.9" r="2.7"/><circle cx="667.6" cy="565.0" r="2.7"/><circle cx="644.1" cy="563.7" r="2.7"/><circle cx="656.8" cy="548.7" r="2.7"/><circle cx="672.4" cy="559.4" r="2.7"/><circle cx="644.1" cy="582.4" r="2.7"/><circle cx="627.1" cy="597.4" r="2.7"/><circle cx="648.4" cy="587.3" r="2.7"/><circle cx="650.9" cy="550.8" r="2.7"/><circle cx="639.2" cy="554.7" r="2.7"/><circle cx="673.5" cy="591.6" r="2.7"/><circle cx="660.1" cy="589.6" r="2.7"/><circle cx="656.0" cy="559.8" r="2.7"/><circle cx="676.9" cy="585.8" r="2.7"/><circle cx="639.7" cy="569.6" r="2.7"/><circle cx="627.3" cy="597.7" r="2.7"/><circle cx="650.8" cy="571.7" r="2.7"/><circle cx="627.6" cy="589.7" r="2.7"/><circle cx="629.8" cy="578.6" r="2.7"/><circle cx="658.9" cy="577.6" r="2.7"/><circle cx="669.0" cy="596.3" r="2.7"/><circle cx="661.3" cy="569.9" r="2.7"/><circle cx="637.7" cy="595.9" r="2.7"/><circle cx="652.4" cy="565.4" r="2.7"/><circle cx="652.9" cy="562.9" r="2.7"/><circle cx="632.7" cy="578.9" r="2.7"/><circle cx="636.8" cy="588.8" r="2.7"/><circle cx="663.1" cy="563.9" r="2.7"/><circle cx="649.9" cy="594.8" r="2.7"/><circle cx="642.0" cy="564.1" r="2.7"/><circle cx="650.7" cy="558.6" r="2.7"/><circle cx="638.7" cy="591.7" r="2.7"/><circle cx="657.0" cy="579.2" r="2.7"/><circle cx="663.1" cy="554.3" r="2.7"/><circle cx="645.6" cy="550.2" r="2.7"/><circle cx="676.6" cy="565.2" r="2.7"/><circle cx="655.2" cy="576.8" r="2.7"/><circle cx="633.1" cy="582.6" r="2.7"/><circle cx="672.7" cy="593.0" r="2.7"/><circle cx="630.9" cy="557.2" r="2.7"/><circle cx="647.7" cy="576.2" r="2.7"/><circle cx="631.0" cy="587.4" r="2.7"/><circle cx="666.4" cy="559.1" r="2.7"/><circle cx="666.6" cy="554.2" r="2.7"/><circle cx="629.7" cy="596.1" r="2.7"/><circle cx="643.4" cy="565.5" r="2.7"/><circle cx="669.5" cy="559.5" r="2.7"/><circle cx="670.5" cy="583.5" r="2.7"/><circle cx="643.1" cy="582.9" r="2.7"/><circle cx="660.3" cy="592.1" r="2.7"/><circle cx="563.9" cy="623.7" r="2.7"/><circle cx="569.6" cy="639.3" r="2.7"/><circle cx="574.8" cy="605.7" r="2.7"/><circle cx="534.5" cy="643.3" r="2.7"/><circle cx="558.2" cy="618.7" r="2.7"/><circle cx="544.2" cy="637.4" r="2.7"/><circle cx="571.4" cy="627.9" r="2.7"/><circle cx="531.3" cy="634.7" r="2.7"/><circle cx="536.9" cy="627.2" r="2.7"/><circle cx="557.6" cy="647.3" r="2.7"/><circle cx="527.7" cy="607.7" r="2.7"/><circle cx="571.2" cy="627.8" r="2.7"/><circle cx="539.5" cy="616.0" r="2.7"/><circle cx="547.9" cy="647.5" r="2.7"/><circle cx="559.2" cy="634.8" r="2.7"/><circle cx="571.0" cy="640.8" r="2.7"/><circle cx="540.3" cy="606.9" r="2.7"/><circle cx="569.8" cy="625.9" r="2.7"/><circle cx="562.7" cy="629.9" r="2.7"/><circle cx="536.1" cy="599.0" r="2.7"/><circle cx="526.4" cy="620.8" r="2.7"/><circle cx="569.5" cy="612.4" r="2.7"/><circle cx="549.6" cy="603.1" r="2.7"/><circle cx="536.3" cy="600.9" r="2.7"/><circle cx="530.6" cy="600.5" r="2.7"/><circle cx="527.7" cy="639.6" r="2.7"/><circle cx="553.3" cy="634.7" r="2.7"/><circle cx="524.3" cy="611.8" r="2.7"/><circle cx="556.8" cy="598.8" r="2.7"/><circle cx="540.5" cy="599.4" r="2.7"/><circle cx="540.4" cy="642.3" r="2.7"/><circle cx="525.4" cy="622.8" r="2.7"/><circle cx="555.1" cy="638.8" r="2.7"/><circle cx="532.9" cy="642.0" r="2.7"/><circle cx="564.6" cy="602.4" r="2.7"/><circle cx="555.3" cy="637.6" r="2.7"/><circle cx="574.4" cy="618.4" r="2.7"/><circle cx="572.0" cy="642.5" r="2.7"/><circle cx="525.3" cy="614.2" r="2.7"/><circle cx="557.4" cy="614.0" r="2.7"/><circle cx="545.2" cy="634.2" r="2.7"/><circle cx="566.6" cy="606.0" r="2.7"/><circle cx="524.9" cy="608.7" r="2.7"/><circle cx="551.0" cy="640.9" r="2.7"/><circle cx="542.2" cy="616.4" r="2.7"/><circle cx="541.5" cy="632.7" r="2.7"/><circle cx="568.2" cy="605.8" r="2.7"/><circle cx="574.0" cy="627.3" r="2.7"/><circle cx="535.7" cy="629.5" r="2.7"/><circle cx="565.5" cy="622.4" r="2.7"/><circle cx="576.6" cy="631.0" r="2.7"/><circle cx="608.2" cy="626.0" r="2.7"/><circle cx="611.0" cy="626.5" r="2.7"/><circle cx="593.4" cy="625.0" r="2.7"/><circle cx="589.0" cy="610.9" r="2.7"/><circle cx="603.5" cy="603.1" r="2.7"/><circle cx="616.3" cy="647.8" r="2.7"/><circle cx="582.7" cy="630.1" r="2.7"/><circle cx="595.4" cy="647.9" r="2.7"/><circle cx="622.8" cy="629.9" r="2.7"/><circle cx="581.2" cy="625.7" r="2.7"/><circle cx="585.5" cy="637.6" r="2.7"/><circle cx="588.2" cy="628.9" r="2.7"/><circle cx="612.6" cy="644.0" r="2.7"/><circle cx="619.4" cy="641.6" r="2.7"/><circle cx="614.7" cy="625.0" r="2.7"/><circle cx="592.9" cy="634.2" r="2.7"/><circle cx="597.5" cy="641.8" r="2.7"/><circle cx="585.9" cy="644.5" r="2.7"/><circle cx="621.0" cy="617.8" r="2.7"/><circle cx="585.8" cy="638.3" r="2.7"/><circle cx="576.3" cy="631.7" r="2.7"/><circle cx="575.8" cy="639.1" r="2.7"/><circle cx="621.6" cy="632.4" r="2.7"/><circle cx="592.9" cy="609.6" r="2.7"/><circle cx="594.2" cy="644.3" r="2.7"/><circle cx="594.2" cy="631.5" r="2.7"/><circle cx="618.9" cy="599.6" r="2.7"/><circle cx="576.1" cy="634.2" r="2.7"/><circle cx="587.3" cy="616.1" r="2.7"/><circle cx="591.6" cy="619.7" r="2.7"/><circle cx="589.2" cy="642.8" r="2.7"/><circle cx="600.4" cy="648.0" r="2.7"/><circle cx="615.3" cy="622.3" r="2.7"/><circle cx="622.6" cy="637.2" r="2.7"/><circle cx="623.7" cy="605.0" r="2.7"/><circle cx="590.3" cy="602.5" r="2.7"/><circle cx="575.2" cy="642.5" r="2.7"/><circle cx="587.7" cy="614.3" r="2.7"/><circle cx="606.1" cy="646.8" r="2.7"/><circle cx="585.8" cy="600.7" r="2.7"/><circle cx="614.9" cy="641.4" r="2.7"/><circle cx="612.5" cy="600.4" r="2.7"/><circle cx="614.5" cy="620.4" r="2.7"/><circle cx="597.2" cy="605.1" r="2.7"/><circle cx="622.7" cy="632.9" r="2.7"/><circle cx="616.1" cy="605.7" r="2.7"/><circle cx="621.5" cy="604.8" r="2.7"/><circle cx="590.4" cy="623.6" r="2.7"/><circle cx="592.9" cy="636.3" r="2.7"/><circle cx="598.7" cy="618.3" r="2.7"/><circle cx="596.1" cy="630.7" r="2.7"/><circle cx="608.9" cy="618.2" r="2.7"/><circle cx="592.1" cy="643.6" r="2.7"/><circle cx="604.8" cy="608.3" r="2.7"/><circle cx="607.0" cy="598.8" r="2.7"/><circle cx="581.9" cy="628.4" r="2.7"/><circle cx="604.3" cy="633.6" r="2.7"/><circle cx="612.2" cy="600.5" r="2.7"/><circle cx="620.6" cy="601.3" r="2.7"/><circle cx="580.6" cy="646.8" r="2.7"/><circle cx="624.5" cy="624.8" r="2.7"/><circle cx="575.1" cy="609.4" r="2.7"/><circle cx="602.6" cy="630.3" r="2.7"/><circle cx="602.8" cy="648.7" r="2.7"/><circle cx="653.0" cy="640.8" r="2.7"/><circle cx="674.8" cy="601.9" r="2.7"/><circle cx="675.5" cy="641.5" r="2.7"/><circle cx="675.6" cy="609.4" r="2.7"/><circle cx="629.7" cy="633.9" r="2.7"/><circle cx="626.8" cy="611.7" r="2.7"/><circle cx="675.3" cy="608.0" r="2.7"/><circle cx="628.4" cy="638.3" r="2.7"/><circle cx="674.5" cy="611.6" r="2.7"/><circle cx="642.6" cy="600.1" r="2.7"/><circle cx="649.1" cy="612.4" r="2.7"/><circle cx="642.9" cy="618.9" r="2.7"/><circle cx="676.7" cy="636.0" r="2.7"/><circle cx="639.7" cy="619.5" r="2.7"/><circle cx="653.5" cy="617.5" r="2.7"/><circle cx="633.7" cy="636.8" r="2.7"/><circle cx="671.0" cy="639.0" r="2.7"/><circle cx="671.8" cy="630.4" r="2.7"/><circle cx="638.2" cy="623.6" r="2.7"/><circle cx="676.4" cy="633.4" r="2.7"/><circle cx="663.2" cy="648.5" r="2.7"/><circle cx="668.1" cy="631.8" r="2.7"/><circle cx="630.4" cy="629.7" r="2.7"/><circle cx="627.7" cy="634.5" r="2.7"/><circle cx="646.7" cy="626.5" r="2.7"/><circle cx="660.9" cy="620.6" r="2.7"/><circle cx="660.1" cy="621.2" r="2.7"/><circle cx="655.5" cy="622.1" r="2.7"/><circle cx="659.0" cy="622.0" r="2.7"/><circle cx="643.5" cy="625.9" r="2.7"/><circle cx="645.4" cy="640.1" r="2.7"/><circle cx="666.4" cy="642.3" r="2.7"/><circle cx="644.1" cy="601.3" r="2.7"/><circle cx="675.8" cy="611.6" r="2.7"/><circle cx="659.6" cy="640.1" r="2.7"/><circle cx="629.7" cy="638.7" r="2.7"/><circle cx="659.9" cy="645.1" r="2.7"/><circle cx="665.0" cy="611.4" r="2.7"/><circle cx="668.9" cy="641.7" r="2.7"/><circle cx="643.7" cy="628.1" r="2.7"/><circle cx="706.1" cy="547.0" r="2.7"/><circle cx="680.4" cy="534.6" r="2.7"/><circle cx="695.6" cy="506.4" r="2.7"/><circle cx="685.6" cy="514.7" r="2.7"/><circle cx="711.4" cy="503.8" r="2.7"/><circle cx="710.8" cy="505.1" r="2.7"/><circle cx="725.3" cy="539.6" r="2.7"/><circle cx="710.3" cy="542.4" r="2.7"/><circle cx="693.4" cy="514.4" r="2.7"/><circle cx="721.0" cy="517.8" r="2.7"/><circle cx="697.9" cy="531.8" r="2.7"/><circle cx="696.1" cy="514.6" r="2.7"/><circle cx="710.8" cy="522.7" r="2.7"/><circle cx="692.4" cy="529.8" r="2.7"/><circle cx="691.0" cy="510.8" r="2.7"/><circle cx="699.8" cy="501.7" r="2.7"/><circle cx="709.4" cy="533.3" r="2.7"/><circle cx="685.9" cy="522.4" r="2.7"/><circle cx="677.3" cy="502.7" r="2.7"/><circle cx="701.9" cy="529.7" r="2.7"/><circle cx="708.8" cy="522.7" r="2.7"/><circle cx="717.9" cy="508.9" r="2.7"/><circle cx="705.4" cy="496.0" r="2.7"/><circle cx="690.2" cy="526.1" r="2.7"/><circle cx="692.6" cy="523.8" r="2.7"/><circle cx="723.8" cy="509.0" r="2.7"/><circle cx="690.5" cy="518.3" r="2.7"/><circle cx="703.8" cy="521.2" r="2.7"/><circle cx="681.5" cy="502.5" r="2.7"/><circle cx="725.9" cy="510.8" r="2.7"/><circle cx="716.8" cy="542.9" r="2.7"/><circle cx="713.6" cy="515.2" r="2.7"/><circle cx="679.1" cy="534.4" r="2.7"/><circle cx="726.5" cy="518.0" r="2.7"/><circle cx="708.0" cy="509.1" r="2.7"/><circle cx="740.2" cy="539.3" r="2.7"/><circle cx="734.6" cy="527.5" r="2.7"/><circle cx="777.9" cy="539.4" r="2.7"/><circle cx="757.6" cy="499.2" r="2.7"/><circle cx="738.4" cy="539.9" r="2.7"/><circle cx="732.1" cy="518.7" r="2.7"/><circle cx="748.1" cy="517.1" r="2.7"/><circle cx="775.7" cy="528.8" r="2.7"/><circle cx="768.4" cy="501.5" r="2.7"/><circle cx="756.7" cy="543.7" r="2.7"/><circle cx="763.7" cy="518.2" r="2.7"/><circle cx="778.7" cy="505.0" r="2.7"/><circle cx="731.3" cy="516.3" r="2.7"/><circle cx="734.9" cy="534.4" r="2.7"/><circle cx="728.5" cy="507.9" r="2.7"/><circle cx="738.2" cy="523.6" r="2.7"/><circle cx="775.2" cy="511.0" r="2.7"/><circle cx="744.8" cy="515.8" r="2.7"/><circle cx="751.5" cy="500.6" r="2.7"/><circle cx="771.2" cy="525.1" r="2.7"/><circle cx="728.8" cy="521.3" r="2.7"/><circle cx="771.3" cy="507.0" r="2.7"/><circle cx="751.2" cy="538.0" r="2.7"/><circle cx="738.2" cy="513.1" r="2.7"/><circle cx="772.0" cy="524.1" r="2.7"/><circle cx="766.1" cy="539.0" r="2.7"/><circle cx="735.1" cy="516.8" r="2.7"/><circle cx="730.6" cy="528.0" r="2.7"/><circle cx="795.3" cy="505.7" r="2.7"/><circle cx="829.1" cy="505.5" r="2.7"/><circle cx="806.5" cy="522.5" r="2.7"/><circle cx="783.4" cy="515.6" r="2.7"/><circle cx="812.9" cy="511.2" r="2.7"/><circle cx="799.1" cy="541.2" r="2.7"/><circle cx="813.7" cy="511.6" r="2.7"/><circle cx="791.7" cy="515.4" r="2.7"/><circle cx="801.2" cy="523.5" r="2.7"/><circle cx="794.6" cy="502.7" r="2.7"/><circle cx="687.6" cy="580.3" r="2.7"/><circle cx="724.6" cy="580.5" r="2.7"/><circle cx="713.2" cy="554.2" r="2.7"/><circle cx="724.5" cy="564.4" r="2.7"/><circle cx="700.3" cy="583.1" r="2.7"/><circle cx="710.9" cy="584.2" r="2.7"/><circle cx="677.4" cy="550.4" r="2.7"/><circle cx="725.5" cy="589.0" r="2.7"/><circle cx="678.8" cy="558.2" r="2.7"/><circle cx="699.4" cy="557.2" r="2.7"/><circle cx="687.7" cy="596.6" r="2.7"/><circle cx="708.1" cy="567.7" r="2.7"/><circle cx="714.1" cy="557.4" r="2.7"/><circle cx="687.4" cy="556.2" r="2.7"/><circle cx="720.8" cy="553.3" r="2.7"/><circle cx="684.0" cy="591.9" r="2.7"/><circle cx="718.5" cy="572.4" r="2.7"/><circle cx="677.7" cy="583.8" r="2.7"/><circle cx="714.6" cy="555.4" r="2.7"/><circle cx="688.3" cy="583.7" r="2.7"/><circle cx="715.2" cy="587.9" r="2.7"/><circle cx="704.3" cy="555.1" r="2.7"/><circle cx="716.7" cy="583.5" r="2.7"/><circle cx="703.3" cy="570.7" r="2.7"/><circle cx="687.3" cy="551.7" r="2.7"/><circle cx="679.6" cy="558.4" r="2.7"/><circle cx="719.5" cy="583.0" r="2.7"/><circle cx="699.6" cy="568.7" r="2.7"/><circle cx="721.3" cy="594.1" r="2.7"/><circle cx="683.8" cy="555.2" r="2.7"/><circle cx="699.8" cy="585.7" r="2.7"/><circle cx="721.6" cy="587.7" r="2.7"/><circle cx="713.1" cy="583.7" r="2.7"/><circle cx="692.8" cy="560.2" r="2.7"/><circle cx="705.0" cy="557.9" r="2.7"/><circle cx="776.2" cy="580.9" r="2.7"/><circle cx="739.8" cy="596.7" r="2.7"/><circle cx="744.7" cy="555.0" r="2.7"/><circle cx="742.8" cy="580.4" r="2.7"/><circle cx="763.4" cy="557.1" r="2.7"/><circle cx="735.6" cy="556.4" r="2.7"/><circle cx="745.0" cy="567.5" r="2.7"/><circle cx="730.0" cy="564.9" r="2.7"/><circle cx="761.5" cy="557.7" r="2.7"/><circle cx="761.5" cy="573.7" r="2.7"/><circle cx="731.7" cy="572.0" r="2.7"/><circle cx="728.9" cy="586.9" r="2.7"/><circle cx="773.4" cy="593.6" r="2.7"/><circle cx="738.2" cy="561.3" r="2.7"/><circle cx="743.4" cy="576.8" r="2.7"/><circle cx="766.6" cy="557.3" r="2.7"/><circle cx="752.0" cy="586.2" r="2.7"/><circle cx="767.0" cy="593.1" r="2.7"/><circle cx="757.5" cy="562.3" r="2.7"/><circle cx="757.6" cy="552.1" r="2.7"/><circle cx="728.1" cy="556.9" r="2.7"/><circle cx="735.8" cy="562.3" r="2.7"/><circle cx="736.8" cy="564.9" r="2.7"/><circle cx="752.5" cy="563.8" r="2.7"/><circle cx="746.6" cy="552.6" r="2.7"/><circle cx="821.4" cy="588.3" r="2.7"/><circle cx="815.9" cy="570.2" r="2.7"/><circle cx="817.1" cy="552.8" r="2.7"/><circle cx="787.2" cy="567.1" r="2.7"/><circle cx="780.8" cy="549.0" r="2.7"/><circle cx="808.5" cy="568.1" r="2.7"/><circle cx="814.5" cy="568.2" r="2.7"/><circle cx="821.7" cy="550.9" r="2.7"/><circle cx="816.1" cy="584.4" r="2.7"/><circle cx="797.3" cy="580.8" r="2.7"/><circle cx="681.6" cy="598.2" r="2.7"/><circle cx="709.9" cy="640.7" r="2.7"/><circle cx="692.5" cy="611.3" r="2.7"/><circle cx="682.4" cy="610.2" r="2.7"/><circle cx="684.8" cy="611.8" r="2.7"/><circle cx="704.6" cy="614.5" r="2.7"/><circle cx="689.5" cy="627.0" r="2.7"/><circle cx="679.1" cy="611.1" r="2.7"/><circle cx="725.4" cy="612.5" r="2.7"/><circle cx="705.3" cy="648.4" r="2.7"/><circle cx="723.3" cy="635.1" r="2.7"/><circle cx="704.3" cy="610.2" r="2.7"/><circle cx="681.8" cy="603.4" r="2.7"/><circle cx="679.7" cy="638.4" r="2.7"/><circle cx="712.8" cy="608.8" r="2.7"/><circle cx="714.9" cy="602.4" r="2.7"/><circle cx="685.7" cy="640.9" r="2.7"/><circle cx="727.9" cy="619.6" r="2.7"/><circle cx="708.8" cy="603.6" r="2.7"/><circle cx="706.1" cy="604.2" r="2.7"/><circle cx="710.9" cy="609.1" r="2.7"/><circle cx="689.4" cy="637.5" r="2.7"/><circle cx="703.2" cy="639.8" r="2.7"/><circle cx="718.9" cy="601.7" r="2.7"/><circle cx="694.2" cy="603.0" r="2.7"/><circle cx="739.0" cy="637.4" r="2.7"/><circle cx="736.9" cy="613.5" r="2.7"/><circle cx="732.3" cy="636.7" r="2.7"/><circle cx="758.2" cy="607.3" r="2.7"/><circle cx="744.2" cy="645.5" r="2.7"/><circle cx="768.1" cy="599.6" r="2.7"/><circle cx="768.2" cy="605.5" r="2.7"/><circle cx="754.1" cy="606.5" r="2.7"/><circle cx="768.7" cy="637.3" r="2.7"/><circle cx="738.4" cy="645.2" r="2.7"/><circle cx="763.0" cy="634.1" r="2.7"/><circle cx="731.4" cy="598.1" r="2.7"/><circle cx="772.9" cy="599.9" r="2.7"/><circle cx="754.8" cy="614.8" r="2.7"/><circle cx="731.5" cy="628.8" r="2.7"/><circle cx="731.2" cy="642.2" r="2.7"/><circle cx="730.6" cy="616.6" r="2.7"/><circle cx="749.0" cy="631.2" r="2.7"/><circle cx="777.5" cy="627.7" r="2.7"/><circle cx="769.0" cy="623.1" r="2.7"/><circle cx="767.4" cy="623.3" r="2.7"/><circle cx="741.2" cy="633.4" r="2.7"/><circle cx="743.4" cy="600.7" r="2.7"/><circle cx="751.8" cy="638.2" r="2.7"/><circle cx="762.7" cy="606.4" r="2.7"/><circle cx="798.7" cy="630.6" r="2.7"/><circle cx="826.8" cy="624.2" r="2.7"/><circle cx="817.1" cy="628.3" r="2.7"/><circle cx="812.4" cy="630.3" r="2.7"/><circle cx="782.5" cy="637.9" r="2.7"/><circle cx="819.9" cy="636.3" r="2.7"/><circle cx="822.2" cy="610.2" r="2.7"/><circle cx="809.0" cy="626.6" r="2.7"/><circle cx="823.8" cy="627.3" r="2.7"/><circle cx="826.6" cy="643.4" r="2.7"/><circle cx="835.6" cy="497.6" r="2.7"/><circle cx="836.0" cy="500.7" r="2.7"/><circle cx="858.0" cy="501.5" r="2.7"/><circle cx="889.0" cy="500.2" r="2.7"/><circle cx="844.4" cy="511.2" r="2.7"/><circle cx="830.3" cy="507.7" r="2.7"/><circle cx="843.1" cy="518.7" r="2.7"/><circle cx="838.4" cy="523.4" r="2.7"/><circle cx="836.5" cy="525.8" r="2.7"/><circle cx="855.9" cy="524.5" r="2.7"/><circle cx="892.4" cy="516.1" r="2.7"/><circle cx="892.1" cy="528.9" r="2.7"/><circle cx="848.6" cy="543.0" r="2.7"/><circle cx="860.8" cy="543.5" r="2.7"/><circle cx="879.1" cy="547.7" r="2.7"/><circle cx="896.1" cy="544.6" r="2.7"/><circle cx="868.2" cy="550.0" r="2.7"/><circle cx="849.8" cy="551.1" r="2.7"/><circle cx="840.0" cy="554.0" r="2.7"/><circle cx="899.0" cy="557.9" r="2.7"/><circle cx="852.8" cy="572.8" r="2.7"/><circle cx="863.8" cy="576.2" r="2.7"/><circle cx="879.9" cy="570.9" r="2.7"/><circle cx="884.6" cy="574.3" r="2.7"/><circle cx="901.8" cy="572.0" r="2.7"/><circle cx="902.6" cy="574.3" r="2.7"/><circle cx="903.4" cy="576.7" r="2.7"/><circle cx="905.8" cy="586.9" r="2.7"/><circle cx="907.3" cy="591.6" r="2.7"/><circle cx="911.2" cy="590.8" r="2.7"/><circle cx="884.6" cy="593.9" r="2.7"/><circle cx="883.8" cy="591.6" r="2.7"/><circle cx="887.0" cy="605.7" r="2.7"/><circle cx="890.9" cy="606.4" r="2.7"/><circle cx="888.2" cy="611.9" r="2.7"/><circle cx="888.5" cy="616.6" r="2.7"/><circle cx="910.8" cy="610.4" r="2.7"/><circle cx="912.0" cy="615.1" r="2.7"/><circle cx="913.6" cy="619.8" r="2.7"/><circle cx="914.4" cy="622.9" r="2.7"/><circle cx="845.1" cy="632.3" r="2.7"/><circle cx="853.6" cy="638.6" r="2.7"/><circle cx="873.3" cy="633.6" r="2.7"/><circle cx="882.3" cy="627.9" r="2.7"/><circle cx="892.0" cy="634.6" r="2.7"/><circle cx="897.1" cy="630.7" r="2.7"/><circle cx="897.9" cy="633.9" r="2.7"/><circle cx="898.7" cy="637.0" r="2.7"/><circle cx="899.5" cy="640.1" r="2.7"/><circle cx="900.3" cy="644.0" r="2.7"/><circle cx="894.8" cy="643.3" r="2.7"/><circle cx="916.7" cy="633.9" r="2.7"/><circle cx="918.3" cy="640.9" r="2.7"/><circle cx="846.7" cy="646.4" r="2.7"/><circle cx="662.5" cy="193.3" r="2.7"/><circle cx="652.9" cy="205.8" r="2.7"/><circle cx="649.3" cy="210.5" r="2.7"/><circle cx="633.7" cy="231.8" r="2.7"/><circle cx="560.1" cy="233.8" r="2.7"/><circle cx="544.2" cy="239.2" r="2.7"/><circle cx="547.3" cy="236.1" r="2.7"/><circle cx="623.6" cy="244.7" r="2.7"/><circle cx="652.4" cy="245.5" r="2.7"/><circle cx="603.4" cy="249.8" r="2.7"/><circle cx="597.9" cy="255.1" r="2.7"/><circle cx="604.9" cy="257.9" r="2.7"/><circle cx="611.9" cy="260.3" r="2.7"/><circle cx="587.8" cy="268.0" r="2.7"/><circle cx="590.1" cy="264.9" r="2.7"/><circle cx="591.7" cy="273.5" r="2.7"/><circle cx="615.8" cy="268.8" r="2.7"/><circle cx="613.5" cy="272.7" r="2.7"/><circle cx="532.6" cy="257.9" r="2.7"/><circle cx="651.6" cy="262.9" r="2.7"/><circle cx="654.7" cy="264.2" r="2.7"/><circle cx="541.1" cy="285.2" r="2.7"/><circle cx="584.7" cy="282.5" r="2.7"/><circle cx="646.6" cy="283.1" r="2.7"/><circle cx="625.2" cy="290.3" r="2.7"/><circle cx="629.5" cy="297.6" r="2.7"/><circle cx="571.9" cy="298.1" r="2.7"/><circle cx="550.8" cy="313.2" r="2.7"/><circle cx="619.3" cy="315.5" r="2.7"/><circle cx="614.3" cy="337.3" r="2.7"/><circle cx="657.9" cy="334.2" r="2.7"/><circle cx="671.9" cy="304.6" r="2.7"/><circle cx="673.4" cy="223.7" r="2.7"/><circle cx="572.1" cy="648.3" r="2.7"/><circle cx="573.5" cy="646.3" r="2.7"/><circle cx="575.0" cy="643.7" r="2.7"/><circle cx="574.9" cy="642.9" r="2.7"/><circle cx="575.3" cy="640.3" r="2.7"/><circle cx="577.1" cy="638.3" r="2.7"/><circle cx="578.1" cy="635.9" r="2.7"/><circle cx="577.6" cy="633.6" r="2.7"/><circle cx="578.9" cy="632.9" r="2.7"/><circle cx="580.1" cy="630.0" r="2.7"/><circle cx="579.9" cy="627.6" r="2.7"/><circle cx="580.1" cy="626.1" r="2.7"/><circle cx="580.7" cy="623.8" r="2.7"/><circle cx="582.1" cy="621.1" r="2.7"/><circle cx="582.6" cy="621.0" r="2.7"/><circle cx="583.0" cy="618.8" r="2.7"/><circle cx="584.1" cy="616.1" r="2.7"/><circle cx="584.5" cy="613.4" r="2.7"/><circle cx="586.0" cy="611.8" r="2.7"/><circle cx="587.3" cy="609.8" r="2.7"/><circle cx="586.8" cy="607.3" r="2.7"/><circle cx="587.2" cy="605.7" r="2.7"/><circle cx="589.2" cy="604.8" r="2.7"/><circle cx="590.2" cy="601.6" r="2.7"/><circle cx="589.6" cy="600.8" r="2.7"/><circle cx="592.6" cy="648.2" r="2.7"/><circle cx="593.2" cy="646.7" r="2.7"/><circle cx="592.8" cy="642.5" r="2.7"/><circle cx="594.3" cy="640.4" r="2.7"/><circle cx="593.6" cy="639.1" r="2.7"/><circle cx="594.9" cy="637.2" r="2.7"/><circle cx="595.5" cy="635.4" r="2.7"/><circle cx="596.2" cy="632.7" r="2.7"/><circle cx="596.5" cy="629.2" r="2.7"/><circle cx="597.2" cy="627.1" r="2.7"/><circle cx="597.1" cy="625.4" r="2.7"/><circle cx="597.5" cy="622.6" r="2.7"/><circle cx="597.9" cy="620.5" r="2.7"/><circle cx="599.3" cy="619.0" r="2.7"/><circle cx="600.2" cy="616.9" r="2.7"/><circle cx="599.0" cy="614.4" r="2.7"/><circle cx="600.4" cy="612.2" r="2.7"/><circle cx="600.0" cy="610.3" r="2.7"/><circle cx="602.2" cy="606.5" r="2.7"/><circle cx="601.8" cy="604.6" r="2.7"/><circle cx="578.5" cy="644.7" r="2.7"/><circle cx="579.7" cy="642.5" r="2.7"/><circle cx="581.4" cy="639.7" r="2.7"/><circle cx="580.5" cy="637.8" r="2.7"/><circle cx="582.0" cy="633.4" r="2.7"/><circle cx="584.3" cy="631.2" r="2.7"/><circle cx="585.5" cy="627.7" r="2.7"/><circle cx="585.7" cy="626.5" r="2.7"/><circle cx="586.7" cy="622.2" r="2.7"/><circle cx="588.0" cy="619.0" r="2.7"/><circle cx="588.6" cy="616.9" r="2.7"/><circle cx="588.6" cy="615.1" r="2.7"/><circle cx="590.7" cy="611.4" r="2.7"/><circle cx="592.4" cy="608.3" r="2.7"/><circle cx="593.3" cy="605.4" r="2.7"/><circle cx="594.1" cy="602.9" r="2.7"/><circle cx="593.6" cy="600.1" r="2.7"/><circle cx="596.2" cy="596.6" r="2.7"/><circle cx="597.1" cy="593.5" r="2.7"/><circle cx="597.1" cy="591.6" r="2.7"/><circle cx="598.8" cy="589.5" r="2.7"/><circle cx="599.6" cy="586.8" r="2.7"/><circle cx="601.0" cy="582.8" r="2.7"/><circle cx="601.8" cy="579.8" r="2.7"/><circle cx="603.2" cy="577.3" r="2.7"/><circle cx="603.7" cy="575.4" r="2.7"/><circle cx="604.2" cy="572.1" r="2.7"/><circle cx="605.2" cy="568.5" r="2.7"/><circle cx="607.0" cy="566.0" r="2.7"/><circle cx="606.7" cy="564.1" r="2.7"/><circle cx="608.7" cy="560.4" r="2.7"/><circle cx="609.2" cy="556.9" r="2.7"/><circle cx="611.2" cy="553.8" r="2.7"/><circle cx="611.0" cy="552.0" r="2.7"/><circle cx="612.7" cy="549.8" r="2.7"/><circle cx="613.2" cy="545.4" r="2.7"/><circle cx="614.2" cy="543.8" r="2.7"/><circle cx="615.2" cy="541.2" r="2.7"/><circle cx="617.1" cy="537.0" r="2.7"/><circle cx="617.3" cy="533.9" r="2.7"/><circle cx="608.1" cy="645.8" r="2.7"/><circle cx="608.7" cy="642.9" r="2.7"/><circle cx="610.0" cy="641.0" r="2.7"/><circle cx="612.2" cy="638.1" r="2.7"/><circle cx="611.7" cy="634.8" r="2.7"/><circle cx="614.3" cy="632.6" r="2.7"/><circle cx="615.2" cy="630.1" r="2.7"/><circle cx="615.3" cy="625.9" r="2.7"/><circle cx="617.5" cy="624.4" r="2.7"/><circle cx="617.5" cy="621.0" r="2.7"/><circle cx="620.0" cy="619.1" r="2.7"/><circle cx="621.2" cy="615.6" r="2.7"/><circle cx="497.3" cy="642.7" r="2.7"/><circle cx="499.2" cy="641.0" r="2.7"/><circle cx="498.9" cy="638.6" r="2.7"/><circle cx="500.6" cy="636.5" r="2.7"/><circle cx="501.5" cy="632.6" r="2.7"/><circle cx="503.5" cy="631.6" r="2.7"/><circle cx="503.4" cy="627.3" r="2.7"/><circle cx="897.3" cy="630.2" r="2.7"/><circle cx="897.6" cy="632.3" r="2.7"/><circle cx="898.7" cy="635.7" r="2.7"/><circle cx="899.1" cy="638.1" r="2.7"/><circle cx="898.5" cy="639.0" r="2.7"/><circle cx="900.5" cy="641.3" r="2.7"/><circle cx="899.5" cy="643.6" r="2.7"/></g><g fill="#000" fill-opacity="0.75"><circle cx="622.7" cy="39.9" r="2.7"/><circle cx="571.5" cy="118.7" r="2.7"/><circle cx="578.3" cy="117.5" r="2.7"/><circle cx="575.2" cy="136.7" r="2.7"/><circle cx="559.7" cy="151.3" r="2.7"/><circle cx="579.3" cy="152.9" r="2.7"/><circle cx="614.0" cy="140.1" r="2.7"/><circle cx="663.7" cy="144.5" r="2.7"/><circle cx="641.3" cy="161.6" r="2.7"/><circle cx="476.9" cy="164.0" r="2.7"/><circle cx="593.5" cy="170.9" r="2.7"/><circle cx="505.4" cy="208.1" r="2.7"/><circle cx="474.4" cy="286.3" r="2.7"/><circle cx="489.9" cy="325.4" r="2.7"/><circle cx="750.4" cy="40.2" r="2.7"/><circle cx="771.3" cy="40.5" r="2.7"/><circle cx="777.5" cy="40.5" r="2.7"/><circle cx="776.0" cy="43.6" r="2.7"/><circle cx="777.2" cy="46.7" r="2.7"/><circle cx="778.3" cy="54.5" r="2.7"/><circle cx="778.3" cy="59.1" r="2.7"/><circle cx="777.5" cy="62.2" r="2.7"/><circle cx="772.1" cy="66.5" r="2.7"/><circle cx="778.3" cy="68.4" r="2.7"/><circle cx="777.5" cy="73.3" r="2.7"/><circle cx="774.4" cy="80.0" r="2.7"/><circle cx="746.6" cy="76.9" r="2.7"/><circle cx="706.4" cy="93.9" r="2.7"/><circle cx="738.9" cy="97.3" r="2.7"/><circle cx="753.1" cy="98.1" r="2.7"/><circle cx="767.5" cy="95.0" r="2.7"/><circle cx="778.3" cy="99.0" r="2.7"/><circle cx="716.4" cy="106.7" r="2.7"/><circle cx="770.2" cy="115.5" r="2.7"/><circle cx="764.4" cy="119.7" r="2.7"/><circle cx="820.8" cy="118.2" r="2.7"/><circle cx="714.9" cy="138.3" r="2.7"/><circle cx="740.7" cy="136.7" r="2.7"/><circle cx="765.1" cy="133.3" r="2.7"/><circle cx="738.1" cy="153.1" r="2.7"/><circle cx="759.3" cy="152.3" r="2.7"/><circle cx="770.6" cy="151.6" r="2.7"/><circle cx="772.9" cy="157.3" r="2.7"/><circle cx="811.5" cy="146.8" r="2.7"/><circle cx="701.7" cy="173.8" r="2.7"/><circle cx="765.9" cy="163.5" r="2.7"/><circle cx="779.8" cy="167.0" r="2.7"/><circle cx="788.0" cy="166.1" r="2.7"/><circle cx="769.5" cy="177.9" r="2.7"/><circle cx="763.6" cy="185.6" r="2.7"/><circle cx="798.4" cy="177.1" r="2.7"/><circle cx="803.8" cy="178.2" r="2.7"/><circle cx="817.7" cy="191.3" r="2.7"/><circle cx="769.8" cy="39.8" r="2.7"/><circle cx="773.6" cy="41.3" r="2.7"/><circle cx="779.1" cy="42.1" r="2.7"/><circle cx="775.2" cy="48.3" r="2.7"/><circle cx="779.1" cy="51.4" r="2.7"/><circle cx="776.7" cy="56.8" r="2.7"/><circle cx="780.6" cy="57.6" r="2.7"/><circle cx="774.4" cy="60.6" r="2.7"/><circle cx="779.1" cy="64.5" r="2.7"/><circle cx="776.0" cy="70.7" r="2.7"/><circle cx="871.0" cy="175.3" r="2.7"/><circle cx="747.4" cy="198.4" r="2.7"/><circle cx="760.5" cy="204.5" r="2.7"/><circle cx="741.9" cy="210.8" r="2.7"/><circle cx="708.7" cy="206.5" r="2.7"/><circle cx="816.9" cy="193.3" r="2.7"/><circle cx="820.8" cy="195.3" r="2.7"/><circle cx="790.7" cy="203.4" r="2.7"/><circle cx="793.7" cy="232.0" r="2.7"/><circle cx="694.8" cy="244.8" r="2.7"/><circle cx="762.0" cy="245.4" r="2.7"/><circle cx="777.5" cy="245.9" r="2.7"/><circle cx="782.1" cy="249.8" r="2.7"/><circle cx="769.8" cy="255.9" r="2.7"/><circle cx="705.6" cy="254.4" r="2.7"/><circle cx="718.8" cy="259.0" r="2.7"/><circle cx="816.2" cy="247.4" r="2.7"/><circle cx="820.8" cy="256.7" r="2.7"/><circle cx="680.4" cy="270.9" r="2.7"/><circle cx="750.9" cy="268.0" r="2.7"/><circle cx="771.6" cy="271.7" r="2.7"/><circle cx="773.6" cy="283.5" r="2.7"/><circle cx="787.1" cy="283.5" r="2.7"/><circle cx="716.9" cy="293.1" r="2.7"/><circle cx="716.4" cy="296.9" r="2.7"/><circle cx="730.3" cy="293.8" r="2.7"/><circle cx="731.1" cy="298.9" r="2.7"/><circle cx="741.2" cy="298.2" r="2.7"/><circle cx="771.6" cy="296.9" r="2.7"/><circle cx="816.2" cy="296.6" r="2.7"/><circle cx="707.9" cy="300.8" r="2.7"/><circle cx="719.5" cy="303.6" r="2.7"/><circle cx="719.5" cy="306.7" r="2.7"/><circle cx="702.5" cy="318.1" r="2.7"/><circle cx="701.0" cy="324.0" r="2.7"/><circle cx="684.0" cy="321.4" r="2.7"/><circle cx="714.1" cy="319.0" r="2.7"/><circle cx="716.9" cy="323.2" r="2.7"/><circle cx="733.4" cy="319.3" r="2.7"/><circle cx="765.1" cy="322.4" r="2.7"/><circle cx="691.7" cy="330.9" r="2.7"/><circle cx="810.8" cy="328.6" r="2.7"/><circle cx="820.0" cy="340.2" r="2.7"/><circle cx="869.4" cy="214.2" r="2.7"/><circle cx="845.4" cy="227.0" r="2.7"/><circle cx="916.4" cy="229.1" r="2.7"/><circle cx="931.6" cy="225.5" r="2.7"/><circle cx="833.4" cy="247.9" r="2.7"/><circle cx="845.8" cy="264.2" r="2.7"/><circle cx="867.7" cy="284.2" r="2.7"/><circle cx="848.6" cy="320.6" r="2.7"/><circle cx="496.0" cy="360.1" r="2.7"/><circle cx="516.4" cy="353.6" r="2.7"/><circle cx="409.0" cy="458.5" r="2.7"/><circle cx="459.9" cy="487.7" r="2.7"/><circle cx="521.7" cy="472.6" r="2.7"/><circle cx="537.2" cy="346.9" r="2.7"/><circle cx="573.8" cy="350.8" r="2.7"/><circle cx="574.6" cy="357.0" r="2.7"/><circle cx="559.5" cy="362.9" r="2.7"/><circle cx="634.5" cy="360.1" r="2.7"/><circle cx="587.8" cy="374.1" r="2.7"/><circle cx="582.4" cy="377.2" r="2.7"/><circle cx="574.6" cy="378.0" r="2.7"/><circle cx="576.9" cy="381.1" r="2.7"/><circle cx="592.5" cy="377.2" r="2.7"/><circle cx="602.6" cy="374.9" r="2.7"/><circle cx="606.5" cy="374.1" r="2.7"/><circle cx="609.3" cy="374.9" r="2.7"/><circle cx="604.2" cy="381.1" r="2.7"/><circle cx="584.7" cy="384.7" r="2.7"/><circle cx="573.8" cy="385.3" r="2.7"/><circle cx="588.6" cy="388.9" r="2.7"/><circle cx="592.5" cy="383.8" r="2.7"/><circle cx="594.8" cy="385.8" r="2.7"/><circle cx="599.8" cy="390.9" r="2.7"/><circle cx="597.6" cy="398.7" r="2.7"/><circle cx="579.3" cy="401.8" r="2.7"/><circle cx="649.3" cy="380.8" r="2.7"/><circle cx="661.0" cy="391.2" r="2.7"/><circle cx="628.6" cy="397.8" r="2.7"/><circle cx="651.3" cy="404.9" r="2.7"/><circle cx="642.6" cy="409.6" r="2.7"/><circle cx="559.8" cy="407.6" r="2.7"/><circle cx="558.6" cy="411.5" r="2.7"/><circle cx="575.4" cy="410.7" r="2.7"/><circle cx="567.6" cy="419.3" r="2.7"/><circle cx="571.5" cy="420.5" r="2.7"/><circle cx="573.0" cy="425.5" r="2.7"/><circle cx="576.6" cy="423.2" r="2.7"/><circle cx="649.8" cy="424.7" r="2.7"/><circle cx="675.0" cy="376.0" r="2.7"/><circle cx="674.7" cy="427.8" r="2.7"/><circle cx="542.7" cy="429.8" r="2.7"/><circle cx="554.8" cy="433.0" r="2.7"/><circle cx="611.2" cy="426.3" r="2.7"/><circle cx="611.2" cy="433.7" r="2.7"/><circle cx="572.2" cy="443.9" r="2.7"/><circle cx="576.9" cy="443.4" r="2.7"/><circle cx="586.7" cy="442.1" r="2.7"/><circle cx="606.2" cy="442.9" r="2.7"/><circle cx="592.5" cy="450.4" r="2.7"/><circle cx="597.9" cy="454.8" r="2.7"/><circle cx="613.0" cy="450.7" r="2.7"/><circle cx="576.6" cy="451.2" r="2.7"/><circle cx="575.4" cy="454.8" r="2.7"/><circle cx="573.8" cy="466.3" r="2.7"/><circle cx="578.2" cy="462.8" r="2.7"/><circle cx="595.3" cy="461.6" r="2.7"/><circle cx="593.3" cy="467.0" r="2.7"/><circle cx="584.7" cy="467.8" r="2.7"/><circle cx="618.2" cy="461.3" r="2.7"/><circle cx="634.8" cy="459.4" r="2.7"/><circle cx="541.4" cy="481.2" r="2.7"/><circle cx="560.6" cy="484.9" r="2.7"/><circle cx="550.5" cy="490.1" r="2.7"/><circle cx="539.6" cy="492.7" r="2.7"/><circle cx="576.1" cy="480.3" r="2.7"/><circle cx="573.8" cy="489.3" r="2.7"/><circle cx="586.3" cy="488.5" r="2.7"/><circle cx="587.0" cy="490.1" r="2.7"/><circle cx="599.8" cy="493.2" r="2.7"/><circle cx="623.6" cy="484.9" r="2.7"/><circle cx="619.7" cy="487.4" r="2.7"/><circle cx="636.8" cy="484.6" r="2.7"/><circle cx="640.0" cy="489.6" r="2.7"/><circle cx="642.3" cy="478.7" r="2.7"/><circle cx="657.1" cy="477.6" r="2.7"/><circle cx="669.1" cy="480.0" r="2.7"/><circle cx="657.1" cy="491.6" r="2.7"/><circle cx="569.1" cy="494.8" r="2.7"/><circle cx="696.9" cy="365.6" r="2.7"/><circle cx="707.4" cy="362.5" r="2.7"/><circle cx="740.8" cy="366.0" r="2.7"/><circle cx="759.2" cy="365.6" r="2.7"/><circle cx="776.6" cy="360.4" r="2.7"/><circle cx="786.7" cy="367.1" r="2.7"/><circle cx="756.4" cy="373.4" r="2.7"/><circle cx="756.4" cy="386.3" r="2.7"/><circle cx="752.8" cy="391.2" r="2.7"/><circle cx="712.0" cy="395.9" r="2.7"/><circle cx="692.6" cy="402.5" r="2.7"/><circle cx="710.5" cy="407.1" r="2.7"/><circle cx="771.2" cy="401.4" r="2.7"/><circle cx="748.3" cy="410.2" r="2.7"/><circle cx="731.8" cy="413.4" r="2.7"/><circle cx="745.2" cy="425.2" r="2.7"/><circle cx="708.1" cy="428.3" r="2.7"/><circle cx="677.8" cy="428.3" r="2.7"/><circle cx="677.8" cy="375.7" r="2.7"/><circle cx="753.6" cy="435.9" r="2.7"/><circle cx="716.7" cy="445.7" r="2.7"/><circle cx="721.4" cy="450.4" r="2.7"/><circle cx="705.0" cy="454.8" r="2.7"/><circle cx="795.0" cy="446.0" r="2.7"/><circle cx="746.7" cy="456.6" r="2.7"/><circle cx="774.3" cy="460.0" r="2.7"/><circle cx="760.7" cy="462.5" r="2.7"/><circle cx="689.1" cy="465.6" r="2.7"/><circle cx="712.8" cy="478.4" r="2.7"/><circle cx="728.4" cy="482.6" r="2.7"/><circle cx="776.6" cy="485.4" r="2.7"/><circle cx="738.9" cy="490.9" r="2.7"/><circle cx="818.6" cy="459.0" r="2.7"/><circle cx="825.6" cy="419.3" r="2.7"/><circle cx="816.3" cy="367.1" r="2.7"/><circle cx="827.2" cy="360.1" r="2.7"/><circle cx="820.2" cy="343.0" r="2.7"/><circle cx="851.7" cy="360.7" r="2.7"/><circle cx="881.0" cy="389.7" r="2.7"/><circle cx="936.8" cy="387.3" r="2.7"/><circle cx="971.3" cy="390.3" r="2.7"/><circle cx="907.6" cy="403.0" r="2.7"/><circle cx="852.8" cy="414.3" r="2.7"/><circle cx="844.4" cy="428.1" r="2.7"/><circle cx="856.4" cy="433.9" r="2.7"/><circle cx="835.0" cy="440.1" r="2.7"/><circle cx="896.1" cy="469.3" r="2.7"/><circle cx="980.2" cy="475.1" r="2.7"/><circle cx="870.5" cy="496.5" r="2.7"/><circle cx="412.9" cy="508.8" r="2.7"/><circle cx="464.1" cy="509.7" r="2.7"/><circle cx="476.6" cy="567.9" r="2.7"/><circle cx="460.4" cy="579.3" r="2.7"/><circle cx="492.2" cy="583.9" r="2.7"/><circle cx="437.4" cy="595.6" r="2.7"/><circle cx="522.2" cy="618.2" r="2.7"/><circle cx="523.8" cy="588.6" r="2.7"/><circle cx="562.9" cy="497.6" r="2.7"/><circle cx="569.1" cy="498.3" r="2.7"/><circle cx="572.2" cy="503.8" r="2.7"/><circle cx="574.6" cy="510.8" r="2.7"/><circle cx="588.6" cy="510.8" r="2.7"/><circle cx="615.8" cy="500.7" r="2.7"/><circle cx="611.2" cy="506.1" r="2.7"/><circle cx="616.6" cy="504.6" r="2.7"/><circle cx="533.0" cy="517.0" r="2.7"/><circle cx="549.7" cy="519.0" r="2.7"/><circle cx="572.2" cy="518.6" r="2.7"/><circle cx="576.9" cy="524.8" r="2.7"/><circle cx="573.8" cy="527.1" r="2.7"/><circle cx="581.6" cy="519.0" r="2.7"/><circle cx="601.0" cy="519.0" r="2.7"/><circle cx="601.8" cy="527.9" r="2.7"/><circle cx="566.3" cy="531.0" r="2.7"/><circle cx="612.4" cy="535.7" r="2.7"/><circle cx="630.6" cy="533.4" r="2.7"/><circle cx="647.0" cy="523.2" r="2.7"/><circle cx="651.6" cy="522.5" r="2.7"/><circle cx="657.1" cy="522.8" r="2.7"/><circle cx="657.1" cy="538.0" r="2.7"/><circle cx="642.3" cy="542.7" r="2.7"/><circle cx="639.2" cy="548.9" r="2.7"/><circle cx="650.1" cy="502.2" r="2.7"/><circle cx="656.3" cy="497.6" r="2.7"/><circle cx="669.5" cy="501.9" r="2.7"/><circle cx="668.7" cy="512.8" r="2.7"/><circle cx="675.0" cy="545.8" r="2.7"/><circle cx="534.9" cy="545.8" r="2.7"/><circle cx="535.7" cy="554.4" r="2.7"/><circle cx="600.3" cy="545.5" r="2.7"/><circle cx="575.4" cy="555.1" r="2.7"/><circle cx="580.0" cy="552.8" r="2.7"/><circle cx="542.7" cy="564.5" r="2.7"/><circle cx="595.6" cy="559.5" r="2.7"/><circle cx="578.5" cy="562.9" r="2.7"/><circle cx="573.8" cy="567.6" r="2.7"/><circle cx="590.1" cy="568.4" r="2.7"/><circle cx="601.0" cy="566.4" r="2.7"/><circle cx="625.2" cy="567.3" r="2.7"/><circle cx="580.8" cy="574.6" r="2.7"/><circle cx="573.8" cy="576.9" r="2.7"/><circle cx="545.0" cy="573.8" r="2.7"/><circle cx="610.4" cy="581.3" r="2.7"/><circle cx="575.4" cy="583.9" r="2.7"/><circle cx="578.5" cy="584.7" r="2.7"/><circle cx="598.7" cy="587.8" r="2.7"/><circle cx="617.4" cy="587.8" r="2.7"/><circle cx="611.2" cy="591.7" r="2.7"/><circle cx="525.9" cy="588.6" r="2.7"/><circle cx="533.0" cy="589.1" r="2.7"/><circle cx="551.7" cy="589.1" r="2.7"/><circle cx="563.7" cy="587.8" r="2.7"/><circle cx="569.1" cy="589.4" r="2.7"/><circle cx="571.5" cy="592.2" r="2.7"/><circle cx="573.8" cy="595.3" r="2.7"/><circle cx="582.4" cy="597.9" r="2.7"/><circle cx="574.6" cy="600.0" r="2.7"/><circle cx="592.5" cy="596.4" r="2.7"/><circle cx="595.6" cy="601.1" r="2.7"/><circle cx="608.8" cy="601.8" r="2.7"/><circle cx="612.4" cy="607.8" r="2.7"/><circle cx="637.6" cy="604.9" r="2.7"/><circle cx="657.5" cy="605.7" r="2.7"/><circle cx="647.7" cy="610.9" r="2.7"/><circle cx="547.7" cy="608.8" r="2.7"/><circle cx="561.0" cy="609.6" r="2.7"/><circle cx="552.8" cy="617.1" r="2.7"/><circle cx="540.3" cy="621.3" r="2.7"/><circle cx="561.4" cy="621.8" r="2.7"/><circle cx="569.1" cy="619.7" r="2.7"/><circle cx="573.8" cy="619.7" r="2.7"/><circle cx="583.9" cy="622.1" r="2.7"/><circle cx="578.5" cy="626.7" r="2.7"/><circle cx="584.7" cy="631.1" r="2.7"/><circle cx="664.1" cy="617.1" r="2.7"/><circle cx="547.0" cy="636.9" r="2.7"/><circle cx="558.2" cy="636.9" r="2.7"/><circle cx="560.6" cy="633.0" r="2.7"/><circle cx="593.3" cy="636.1" r="2.7"/><circle cx="603.4" cy="633.0" r="2.7"/><circle cx="608.0" cy="630.6" r="2.7"/><circle cx="601.8" cy="636.9" r="2.7"/><circle cx="628.3" cy="629.9" r="2.7"/><circle cx="626.7" cy="634.5" r="2.7"/><circle cx="635.8" cy="634.5" r="2.7"/><circle cx="675.8" cy="638.4" r="2.7"/><circle cx="562.9" cy="646.2" r="2.7"/><circle cx="573.8" cy="645.4" r="2.7"/><circle cx="578.5" cy="646.2" r="2.7"/><circle cx="583.1" cy="646.7" r="2.7"/><circle cx="636.1" cy="645.4" r="2.7"/><circle cx="700.7" cy="503.5" r="2.7"/><circle cx="685.6" cy="510.3" r="2.7"/><circle cx="700.3" cy="512.3" r="2.7"/><circle cx="747.4" cy="498.3" r="2.7"/><circle cx="746.7" cy="519.7" r="2.7"/><circle cx="717.2" cy="534.9" r="2.7"/><circle cx="727.6" cy="533.0" r="2.7"/><circle cx="738.5" cy="543.9" r="2.7"/><circle cx="747.0" cy="541.1" r="2.7"/><circle cx="756.4" cy="541.1" r="2.7"/><circle cx="764.9" cy="531.5" r="2.7"/><circle cx="768.5" cy="551.3" r="2.7"/><circle cx="814.7" cy="510.8" r="2.7"/><circle cx="677.8" cy="545.8" r="2.7"/><circle cx="733.8" cy="567.6" r="2.7"/><circle cx="735.4" cy="584.7" r="2.7"/><circle cx="743.9" cy="588.1" r="2.7"/><circle cx="748.6" cy="593.3" r="2.7"/><circle cx="723.7" cy="591.3" r="2.7"/><circle cx="725.2" cy="596.4" r="2.7"/><circle cx="726.8" cy="603.1" r="2.7"/><circle cx="704.7" cy="607.8" r="2.7"/><circle cx="738.5" cy="606.8" r="2.7"/><circle cx="824.5" cy="596.4" r="2.7"/><circle cx="746.7" cy="618.6" r="2.7"/><circle cx="776.6" cy="617.1" r="2.7"/><circle cx="772.7" cy="620.5" r="2.7"/><circle cx="774.3" cy="630.2" r="2.7"/><circle cx="700.7" cy="629.1" r="2.7"/><circle cx="679.3" cy="629.9" r="2.7"/><circle cx="678.6" cy="638.4" r="2.7"/><circle cx="678.9" cy="641.5" r="2.7"/><circle cx="737.7" cy="642.3" r="2.7"/><circle cx="778.2" cy="647.8" r="2.7"/><circle cx="870.5" cy="497.9" r="2.7"/><circle cx="849.1" cy="504.1" r="2.7"/><circle cx="834.5" cy="510.4" r="2.7"/><circle cx="850.1" cy="567.8" r="2.7"/><circle cx="836.0" cy="595.5" r="2.7"/><circle cx="865.0" cy="613.8" r="2.7"/><circle cx="926.4" cy="611.9" r="2.7"/><circle cx="926.1" cy="635.4" r="2.7"/><circle cx="908.6" cy="642.5" r="2.7"/><circle cx="570.7" cy="198.5" r="2.7"/><circle cx="578.5" cy="201.6" r="2.7"/><circle cx="603.4" cy="196.9" r="2.7"/><circle cx="557.9" cy="206.3" r="2.7"/><circle cx="571.5" cy="220.3" r="2.7"/><circle cx="576.1" cy="224.9" r="2.7"/><circle cx="564.8" cy="227.6" r="2.7"/><circle cx="566.0" cy="230.7" r="2.7"/><circle cx="553.6" cy="238.9" r="2.7"/><circle cx="589.4" cy="238.2" r="2.7"/><circle cx="604.9" cy="244.7" r="2.7"/><circle cx="611.9" cy="242.8" r="2.7"/><circle cx="634.2" cy="245.9" r="2.7"/><circle cx="654.0" cy="225.6" r="2.7"/><circle cx="650.1" cy="237.2" r="2.7"/><circle cx="583.1" cy="258.2" r="2.7"/><circle cx="573.8" cy="261.8" r="2.7"/><circle cx="577.7" cy="261.0" r="2.7"/><circle cx="544.2" cy="267.0" r="2.7"/><circle cx="545.8" cy="272.7" r="2.7"/><circle cx="578.2" cy="271.5" r="2.7"/><circle cx="573.0" cy="275.8" r="2.7"/><circle cx="617.4" cy="264.6" r="2.7"/><circle cx="625.6" cy="259.5" r="2.7"/><circle cx="671.9" cy="258.7" r="2.7"/><circle cx="667.2" cy="266.8" r="2.7"/><circle cx="559.0" cy="282.5" r="2.7"/><circle cx="561.4" cy="284.4" r="2.7"/><circle cx="616.6" cy="285.2" r="2.7"/><circle cx="627.5" cy="283.1" r="2.7"/><circle cx="658.6" cy="283.1" r="2.7"/><circle cx="572.2" cy="293.4" r="2.7"/><circle cx="558.6" cy="301.2" r="2.7"/><circle cx="595.6" cy="299.6" r="2.7"/><circle cx="593.7" cy="302.8" r="2.7"/><circle cx="575.4" cy="316.3" r="2.7"/><circle cx="557.9" cy="320.2" r="2.7"/><circle cx="672.6" cy="309.0" r="2.7"/><circle cx="671.1" cy="324.9" r="2.7"/><circle cx="575.4" cy="327.2" r="2.7"/><circle cx="578.5" cy="328.7" r="2.7"/><circle cx="569.9" cy="333.9" r="2.7"/><circle cx="574.1" cy="340.1" r="2.7"/><circle cx="563.0" cy="645.0" r="2.7"/><circle cx="568.0" cy="647.0" r="2.7"/><circle cx="572.0" cy="644.0" r="2.7"/><circle cx="577.0" cy="646.0" r="2.7"/><circle cx="582.0" cy="647.0" r="2.7"/><circle cx="586.0" cy="645.0" r="2.7"/><circle cx="574.0" cy="640.0" r="2.7"/><circle cx="580.0" cy="642.0" r="2.7"/><circle cx="566.0" cy="642.0" r="2.7"/></g></g>
<rect x="372.1" y="39.1" width="609.80" height="609.50" fill="none" stroke="#000" stroke-width="1.2"/>
<line x1="367.1" y1="39.10" x2="372.1" y2="39.10" stroke="#000" stroke-width="1.2"/>
<text x="332.92" y="45.80" font-size="17.4" textLength="26.93" lengthAdjust="spacingAndGlyphs" fill="#000" >1.0</text>
<line x1="367.1" y1="343.85" x2="372.1" y2="343.85" stroke="#000" stroke-width="1.2"/>
<text x="333.66" y="350.55" font-size="17.4" textLength="26.23" lengthAdjust="spacingAndGlyphs" fill="#000" >0.5</text>
<line x1="367.1" y1="648.60" x2="372.1" y2="648.60" stroke="#000" stroke-width="1.2"/>
<text x="333.66" y="655.30" font-size="17.4" textLength="26.17" lengthAdjust="spacingAndGlyphs" fill="#000" >0.0</text>
<line x1="574.8" y1="648.6" x2="574.8" y2="653.6" stroke="#000" stroke-width="1.2"/>
<text x="569.80" y="674.20" font-size="17.4" textLength="10.01" lengthAdjust="spacingAndGlyphs" fill="#000" >0</text>
<line x1="778.5" y1="648.6" x2="778.5" y2="653.6" stroke="#000" stroke-width="1.2"/>
<text x="773.42" y="674.20" font-size="17.4" textLength="9.67" lengthAdjust="spacingAndGlyphs" fill="#000" >1</text>
<text x="378.88" y="21.00" font-size="23.5" textLength="29.94" lengthAdjust="spacingAndGlyphs" fill="#000" >(b)</text>
<clipPath id="clipC"><rect x="372.1" y="726.5" width="609.80" height="221.20"/></clipPath>
<g clip-path="url(#clipC)"><path d="M493.72,947.70V943.13H514.09V947.70ZM514.09,947.70V931.70H534.46V947.70ZM534.46,947.70V894.44H554.83V947.70ZM554.83,947.70V773.51H575.20V947.70ZM575.20,947.70V736.93H595.57V947.70ZM595.57,947.70V832.03H615.94V947.70ZM615.94,947.70V880.03H636.31V947.70ZM636.31,947.70V898.09H656.68V947.70ZM656.68,947.70V927.35H677.05V947.70ZM677.05,947.70V944.27H697.42V947.70Z" fill="#FFA500" fill-opacity="0.7"/><path d="M636.31,947.70V944.27H656.68V947.70ZM656.68,947.70V921.18H677.05V947.70ZM677.05,947.70V911.81H697.42V947.70ZM697.42,947.70V866.09H717.79V947.70ZM717.79,947.70V861.75H738.16V947.70ZM738.16,947.70V839.12H758.53V947.70ZM758.53,947.70V789.97H778.90V947.70ZM778.90,947.70V879.58H799.27V947.70ZM799.27,947.70V911.58H819.64V947.70ZM819.64,947.70V917.75H840.01V947.70ZM840.01,947.70V941.99H860.38V947.70Z" fill="#008000" fill-opacity="0.7"/><path d="M371.50,947.70V942.67H391.87V947.70ZM391.87,947.70V942.67H412.24V947.70ZM412.24,947.70V942.67H432.61V947.70ZM432.61,947.70V942.67H452.98V947.70ZM452.98,947.70V935.13H473.35V947.70ZM473.35,947.70V929.87H493.72V947.70ZM493.72,947.70V942.67H514.09V947.70ZM514.09,947.70V942.67H534.46V947.70ZM534.46,947.70V942.67H554.83V947.70ZM554.83,947.70V942.67H575.20V947.70ZM575.20,947.70V942.67H595.57V947.70ZM595.57,947.70V942.67H615.94V947.70ZM615.94,947.70V942.67H636.31V947.70ZM636.31,947.70V942.67H656.68V947.70ZM656.68,947.70V942.67H677.05V947.70ZM677.05,947.70V942.67H697.42V947.70ZM697.42,947.70V942.67H717.79V947.70ZM717.79,947.70V942.67H738.16V947.70ZM738.16,947.70V942.67H758.53V947.70ZM758.53,947.70V942.67H778.90V947.70ZM778.90,947.70V942.67H799.27V947.70ZM799.27,947.70V942.67H819.64V947.70ZM819.64,947.70V932.61H840.01V947.70ZM840.01,947.70V931.93H860.38V947.70ZM860.38,947.70V942.67H880.75V947.70ZM880.75,947.70V935.13H901.12V947.70ZM901.12,947.70V936.96H921.49V947.70ZM921.49,947.70V938.78H941.86V947.70ZM941.86,947.70V942.67H962.23V947.70ZM962.23,947.70V942.67H982.60V947.70Z" fill="#800080" fill-opacity="0.7"/><path d="M372.0,947.00 L374.0,947.00 L376.0,947.00 L378.0,947.00 L380.0,947.00 L382.0,947.00 L384.0,947.00 L386.0,947.00 L388.0,947.00 L390.0,947.00 L392.0,947.00 L394.0,947.00 L396.0,947.00 L398.0,947.00 L400.0,947.00 L402.0,947.00 L404.0,947.00 L406.0,947.00 L408.0,947.00 L410.0,947.00 L412.0,947.00 L414.0,947.00 L416.0,947.00 L418.0,947.00 L420.0,947.00 L422.0,947.00 L424.0,947.00 L426.0,947.00 L428.0,947.00 L430.0,947.00 L432.0,946.99 L434.0,946.99 L436.0,946.99 L438.0,946.99 L440.0,946.99 L442.0,946.98 L444.0,946.98 L446.0,946.97 L448.0,946.96 L450.0,946.95 L452.0,946.94 L454.0,946.92 L456.0,946.90 L458.0,946.88 L460.0,946.84 L462.0,946.81 L464.0,946.76 L466.0,946.71 L468.0,946.64 L470.0,946.56 L472.0,946.46 L474.0,946.35 L476.0,946.21 L478.0,946.04 L480.0,945.85 L482.0,945.62 L484.0,945.35 L486.0,945.04 L488.0,944.67 L490.0,944.24 L492.0,943.75 L494.0,943.18 L496.0,942.52 L498.0,941.77 L500.0,940.91 L502.0,939.94 L504.0,938.84 L506.0,937.60 L508.0,936.21 L510.0,934.65 L512.0,932.92 L514.0,930.99 L516.0,928.87 L518.0,926.53 L520.0,923.96 L522.0,921.17 L524.0,918.13 L526.0,914.84 L528.0,911.30 L530.0,907.49 L532.0,903.44 L534.0,899.12 L536.0,894.56 L538.0,889.75 L540.0,884.71 L542.0,879.46 L544.0,874.00 L546.0,868.38 L548.0,862.60 L550.0,856.70 L552.0,850.71 L554.0,844.67 L556.0,838.62 L558.0,832.60 L560.0,826.64 L562.0,820.80 L564.0,815.12 L566.0,809.65 L568.0,804.43 L570.0,799.50 L572.0,794.92 L574.0,790.73 L576.0,786.95 L578.0,783.64 L580.0,780.82 L582.0,778.51 L584.0,776.74 L586.0,775.54 L588.0,774.90 L590.0,774.85 L592.0,775.37 L594.0,776.46 L596.0,778.11 L598.0,780.31 L600.0,783.03 L602.0,786.25 L604.0,789.94 L606.0,794.05 L608.0,798.56 L610.0,803.42 L612.0,808.58 L614.0,814.01 L616.0,819.65 L618.0,825.46 L620.0,831.40 L622.0,837.41 L624.0,843.46 L626.0,849.51 L628.0,855.51 L630.0,861.43 L632.0,867.23 L634.0,872.89 L636.0,878.38 L638.0,883.68 L640.0,888.76 L642.0,893.61 L644.0,898.23 L646.0,902.59 L648.0,906.70 L650.0,910.56 L652.0,914.15 L654.0,917.49 L656.0,920.58 L658.0,923.42 L660.0,926.03 L662.0,928.42 L664.0,930.58 L666.0,932.55 L668.0,934.32 L670.0,935.91 L672.0,937.33 L674.0,938.60 L676.0,939.73 L678.0,940.73 L680.0,941.61 L682.0,942.38 L684.0,943.05 L686.0,943.64 L688.0,944.15 L690.0,944.59 L692.0,944.97 L694.0,945.29 L696.0,945.57 L698.0,945.81 L700.0,946.01 L702.0,946.18 L704.0,946.32 L706.0,946.44 L708.0,946.54 L710.0,946.63 L712.0,946.69 L714.0,946.75 L716.0,946.80 L718.0,946.84 L720.0,946.87 L722.0,946.90 L724.0,946.92 L726.0,946.93 L728.0,946.95 L730.0,946.96 L732.0,946.97 L734.0,946.97 L736.0,946.98 L738.0,946.98 L740.0,946.99 L742.0,946.99 L744.0,946.99 L746.0,946.99 L748.0,947.00 L750.0,947.00 L752.0,947.00 L754.0,947.00 L756.0,947.00 L758.0,947.00 L760.0,947.00 L762.0,947.00 L764.0,947.00 L766.0,947.00 L768.0,947.00 L770.0,947.00 L772.0,947.00 L774.0,947.00 L776.0,947.00 L778.0,947.00 L780.0,947.00 L782.0,947.00 L784.0,947.00 L786.0,947.00 L788.0,947.00 L790.0,947.00 L792.0,947.00 L794.0,947.00 L796.0,947.00 L798.0,947.00 L800.0,947.00 L802.0,947.00 L804.0,947.00 L806.0,947.00 L808.0,947.00 L810.0,947.00 L812.0,947.00 L814.0,947.00 L816.0,947.00 L818.0,947.00 L820.0,947.00 L822.0,947.00 L824.0,947.00 L826.0,947.00 L828.0,947.00 L830.0,947.00 L832.0,947.00 L834.0,947.00 L836.0,947.00 L838.0,947.00 L840.0,947.00 L842.0,947.00 L844.0,947.00 L846.0,947.00 L848.0,947.00 L850.0,947.00 L852.0,947.00 L854.0,947.00 L856.0,947.00 L858.0,947.00 L860.0,947.00 L862.0,947.00 L864.0,947.00 L866.0,947.00 L868.0,947.00 L870.0,947.00 L872.0,947.00 L874.0,947.00 L876.0,947.00 L878.0,947.00 L880.0,947.00 L882.0,947.00 L884.0,947.00 L886.0,947.00 L888.0,947.00 L890.0,947.00 L892.0,947.00 L894.0,947.00 L896.0,947.00 L898.0,947.00 L900.0,947.00 L902.0,947.00 L904.0,947.00 L906.0,947.00 L908.0,947.00 L910.0,947.00 L912.0,947.00 L914.0,947.00 L916.0,947.00 L918.0,947.00 L920.0,947.00 L922.0,947.00 L924.0,947.00 L926.0,947.00 L928.0,947.00 L930.0,947.00 L932.0,947.00 L934.0,947.00 L936.0,947.00 L938.0,947.00 L940.0,947.00 L942.0,947.00 L944.0,947.00 L946.0,947.00 L948.0,947.00 L950.0,947.00 L952.0,947.00 L954.0,947.00 L956.0,947.00 L958.0,947.00 L960.0,947.00 L962.0,947.00 L964.0,947.00 L966.0,947.00 L968.0,947.00 L970.0,947.00 L972.0,947.00 L974.0,947.00 L976.0,947.00 L978.0,947.00 L980.0,947.00 L982.0,947.00" fill="none" stroke="#FFA500" stroke-width="4.9"/><path d="M372.0,947.00 L374.0,947.00 L376.0,947.00 L378.0,947.00 L380.0,947.00 L382.0,947.00 L384.0,947.00 L386.0,947.00 L388.0,947.00 L390.0,947.00 L392.0,947.00 L394.0,947.00 L396.0,947.00 L398.0,947.00 L400.0,947.00 L402.0,947.00 L404.0,947.00 L406.0,947.00 L408.0,947.00 L410.0,947.00 L412.0,947.00 L414.0,947.00 L416.0,947.00 L418.0,947.00 L420.0,947.00 L422.0,947.00 L424.0,947.00 L426.0,947.00 L428.0,947.00 L430.0,947.00 L432.0,947.00 L434.0,947.00 L436.0,947.00 L438.0,947.00 L440.0,947.00 L442.0,947.00 L444.0,947.00 L446.0,947.00 L448.0,947.00 L450.0,947.00 L452.0,947.00 L454.0,947.00 L456.0,947.00 L458.0,947.00 L460.0,947.00 L462.0,947.00 L464.0,947.00 L466.0,947.00 L468.0,947.00 L470.0,947.00 L472.0,947.00 L474.0,947.00 L476.0,947.00 L478.0,947.00 L480.0,947.00 L482.0,947.00 L484.0,947.00 L486.0,947.00 L488.0,947.00 L490.0,947.00 L492.0,947.00 L494.0,947.00 L496.0,947.00 L498.0,947.00 L500.0,947.00 L502.0,947.00 L504.0,947.00 L506.0,947.00 L508.0,947.00 L510.0,947.00 L512.0,947.00 L514.0,947.00 L516.0,947.00 L518.0,947.00 L520.0,947.00 L522.0,947.00 L524.0,947.00 L526.0,947.00 L528.0,947.00 L530.0,947.00 L532.0,947.00 L534.0,947.00 L536.0,947.00 L538.0,947.00 L540.0,947.00 L542.0,947.00 L544.0,946.99 L546.0,946.99 L548.0,946.99 L550.0,946.99 L552.0,946.99 L554.0,946.99 L556.0,946.98 L558.0,946.98 L560.0,946.98 L562.0,946.97 L564.0,946.97 L566.0,946.96 L568.0,946.95 L570.0,946.95 L572.0,946.94 L574.0,946.92 L576.0,946.91 L578.0,946.89 L580.0,946.88 L582.0,946.85 L584.0,946.83 L586.0,946.80 L588.0,946.77 L590.0,946.73 L592.0,946.68 L594.0,946.63 L596.0,946.57 L598.0,946.51 L600.0,946.43 L602.0,946.34 L604.0,946.25 L606.0,946.13 L608.0,946.01 L610.0,945.87 L612.0,945.71 L614.0,945.53 L616.0,945.33 L618.0,945.10 L620.0,944.85 L622.0,944.57 L624.0,944.26 L626.0,943.91 L628.0,943.53 L630.0,943.11 L632.0,942.64 L634.0,942.13 L636.0,941.57 L638.0,940.95 L640.0,940.28 L642.0,939.54 L644.0,938.75 L646.0,937.88 L648.0,936.94 L650.0,935.93 L652.0,934.84 L654.0,933.66 L656.0,932.40 L658.0,931.05 L660.0,929.60 L662.0,928.07 L664.0,926.43 L666.0,924.70 L668.0,922.87 L670.0,920.93 L672.0,918.89 L674.0,916.76 L676.0,914.52 L678.0,912.17 L680.0,909.74 L682.0,907.20 L684.0,904.58 L686.0,901.86 L688.0,899.07 L690.0,896.19 L692.0,893.25 L694.0,890.24 L696.0,887.18 L698.0,884.07 L700.0,880.92 L702.0,877.75 L704.0,874.57 L706.0,871.38 L708.0,868.20 L710.0,865.04 L712.0,861.91 L714.0,858.83 L716.0,855.81 L718.0,852.87 L720.0,850.02 L722.0,847.27 L724.0,844.63 L726.0,842.12 L728.0,839.76 L730.0,837.54 L732.0,835.50 L734.0,833.63 L736.0,831.94 L738.0,830.46 L740.0,829.17 L742.0,828.10 L744.0,827.24 L746.0,826.60 L748.0,826.19 L750.0,826.01 L752.0,826.06 L754.0,826.33 L756.0,826.83 L758.0,827.56 L760.0,828.50 L762.0,829.66 L764.0,831.03 L766.0,832.59 L768.0,834.35 L770.0,836.30 L772.0,838.41 L774.0,840.69 L776.0,843.11 L778.0,845.67 L780.0,848.35 L782.0,851.15 L784.0,854.04 L786.0,857.01 L788.0,860.06 L790.0,863.15 L792.0,866.30 L794.0,869.47 L796.0,872.65 L798.0,875.84 L800.0,879.02 L802.0,882.19 L804.0,885.32 L806.0,888.41 L808.0,891.45 L810.0,894.43 L812.0,897.35 L814.0,900.20 L816.0,902.96 L818.0,905.64 L820.0,908.23 L822.0,910.72 L824.0,913.12 L826.0,915.42 L828.0,917.62 L830.0,919.72 L832.0,921.72 L834.0,923.61 L836.0,925.41 L838.0,927.10 L840.0,928.69 L842.0,930.19 L844.0,931.60 L846.0,932.91 L848.0,934.14 L850.0,935.28 L852.0,936.34 L854.0,937.33 L856.0,938.24 L858.0,939.07 L860.0,939.85 L862.0,940.55 L864.0,941.20 L866.0,941.80 L868.0,942.34 L870.0,942.83 L872.0,943.28 L874.0,943.69 L876.0,944.06 L878.0,944.39 L880.0,944.69 L882.0,944.95 L884.0,945.19 L886.0,945.41 L888.0,945.60 L890.0,945.77 L892.0,945.93 L894.0,946.06 L896.0,946.18 L898.0,946.29 L900.0,946.38 L902.0,946.46 L904.0,946.53 L906.0,946.60 L908.0,946.65 L910.0,946.70 L912.0,946.74 L914.0,946.78 L916.0,946.81 L918.0,946.84 L920.0,946.86 L922.0,946.88 L924.0,946.90 L926.0,946.92 L928.0,946.93 L930.0,946.94 L932.0,946.95 L934.0,946.96 L936.0,946.96 L938.0,946.97 L940.0,946.97 L942.0,946.98 L944.0,946.98 L946.0,946.99 L948.0,946.99 L950.0,946.99 L952.0,946.99 L954.0,946.99 L956.0,946.99 L958.0,947.00 L960.0,947.00 L962.0,947.00 L964.0,947.00 L966.0,947.00 L968.0,947.00 L970.0,947.00 L972.0,947.00 L974.0,947.00 L976.0,947.00 L978.0,947.00 L980.0,947.00 L982.0,947.00" fill="none" stroke="#008000" stroke-width="4.9"/><path d="M372,944.8 L520,942.8 L750,941.8 L983,942.2" fill="none" stroke="#800080" stroke-width="5"/></g>
<rect x="372.1" y="726.5" width="609.80" height="221.20" fill="none" stroke="#000" stroke-width="1.2"/>
<line x1="367.1" y1="947.70" x2="372.1" y2="947.70" stroke="#000" stroke-width="1.2"/>
<text x="349.25" y="953.70" font-size="17.4" textLength="10.70" lengthAdjust="spacingAndGlyphs" fill="#000" >0</text>
<line x1="367.1" y1="901.98" x2="372.1" y2="901.98" stroke="#000" stroke-width="1.2"/>
<text x="326.49" y="907.98" font-size="17.4" textLength="33.49" lengthAdjust="spacingAndGlyphs" fill="#000" >200</text>
<line x1="367.1" y1="856.26" x2="372.1" y2="856.26" stroke="#000" stroke-width="1.2"/>
<text x="327.05" y="862.26" font-size="17.4" textLength="32.92" lengthAdjust="spacingAndGlyphs" fill="#000" >400</text>
<line x1="367.1" y1="810.54" x2="372.1" y2="810.54" stroke="#000" stroke-width="1.2"/>
<text x="326.48" y="816.54" font-size="17.4" textLength="33.50" lengthAdjust="spacingAndGlyphs" fill="#000" >600</text>
<line x1="367.1" y1="764.82" x2="372.1" y2="764.82" stroke="#000" stroke-width="1.2"/>
<text x="326.63" y="770.82" font-size="17.4" textLength="33.35" lengthAdjust="spacingAndGlyphs" fill="#000" >800</text>
<line x1="473.6" y1="947.7" x2="473.6" y2="952.7" stroke="#000" stroke-width="1.2"/>
<line x1="575.2" y1="947.7" x2="575.2" y2="952.7" stroke="#000" stroke-width="1.2"/>
<line x1="677.1" y1="947.7" x2="677.1" y2="952.7" stroke="#000" stroke-width="1.2"/>
<line x1="778.3" y1="947.7" x2="778.3" y2="952.7" stroke="#000" stroke-width="1.2"/>
<line x1="880.4" y1="947.7" x2="880.4" y2="952.7" stroke="#000" stroke-width="1.2"/>
<text x="439.82" y="973.20" font-size="17.4" textLength="67.54" lengthAdjust="spacingAndGlyphs" fill="#000" >Positive</text>
<text x="570.20" y="973.30" font-size="17.4" textLength="10.01" lengthAdjust="spacingAndGlyphs" fill="#000" >0</text>
<text x="637.58" y="973.30" font-size="17.4" textLength="77.90" lengthAdjust="spacingAndGlyphs" fill="#000" >Negative</text>
<text x="773.22" y="973.30" font-size="17.4" textLength="9.67" lengthAdjust="spacingAndGlyphs" fill="#000" >1</text>
<text x="832.75" y="973.50" font-size="17.4" textLength="96.05" lengthAdjust="spacingAndGlyphs" fill="#000" >Facilitation</text>
<text x="375.23" y="992.20" font-size="17.4" textLength="197.34" lengthAdjust="spacingAndGlyphs" fill="#000" >frequency dependence</text>
<text x="579.23" y="992.20" font-size="17.4" textLength="197.03" lengthAdjust="spacingAndGlyphs" fill="#000" >frequency dependence</text>
<text x="557.26" y="1021.40" font-size="27.9" textLength="239.06" lengthAdjust="spacingAndGlyphs" fill="#000" >Niche differences</text>
<text transform="translate(314.30,905.00) rotate(-90)" x="-2.47" y="0" font-size="27.9" textLength="142.33" lengthAdjust="spacingAndGlyphs" fill="#000">Frequency</text>
<text x="379.22" y="712.80" font-size="23.5" textLength="27.86" lengthAdjust="spacingAndGlyphs" fill="#000" >(c)</text>
<rect x="54.6" y="740" width="212.4" height="128.2" rx="3.5" fill="#fff" stroke="#cccccc" stroke-width="1.2"/>
<rect x="65.6" y="752.5" width="55.5" height="19.3" fill="#FFA500" fill-opacity="0.7"/>
<rect x="65.6" y="792.8" width="55.5" height="19.2" fill="#008000" fill-opacity="0.7"/>
<rect x="65.6" y="832.8" width="55.5" height="19.5" fill="#800080" fill-opacity="0.7"/>
<text x="142.06" y="772.00" font-size="27.9" textLength="105.66" lengthAdjust="spacingAndGlyphs" fill="#000" >Low ND</text>
<text x="142.02" y="812.30" font-size="27.9" textLength="114.23" lengthAdjust="spacingAndGlyphs" fill="#000" >High ND</text>
<text x="144.39" y="851.80" font-size="27.9" textLength="108.89" lengthAdjust="spacingAndGlyphs" fill="#000" >variable</text>
</svg></body></html>
